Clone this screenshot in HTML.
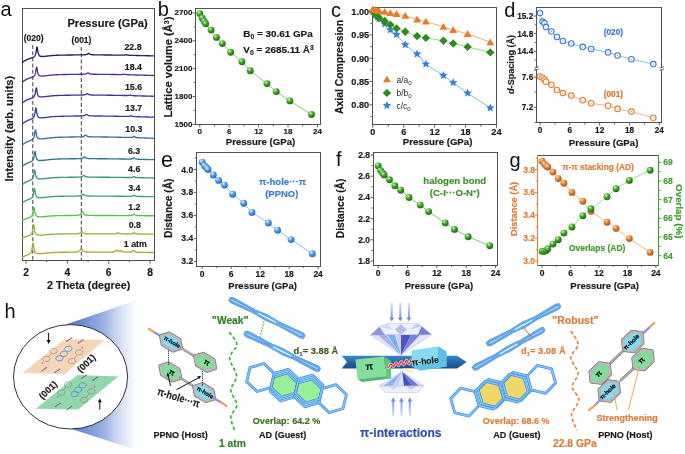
<!DOCTYPE html>
<html><head><meta charset="utf-8"><style>
html,body{margin:0;padding:0;background:#fff;width:685px;height:454px;overflow:hidden}
svg{display:block;font-family:"Liberation Sans",sans-serif;will-change:transform}
</style></head><body>
<svg width="685" height="454" viewBox="0 0 685 454" font-family="Liberation Sans, sans-serif">
<defs>
 <radialGradient id="sg" cx="0.36" cy="0.3" r="0.72">
  <stop offset="0" stop-color="#eaffe6"/><stop offset="0.18" stop-color="#8ed670"/><stop offset="0.5" stop-color="#3c9e24"/><stop offset="1" stop-color="#1c6a0c"/>
 </radialGradient>
 <radialGradient id="sb" cx="0.36" cy="0.3" r="0.72">
  <stop offset="0" stop-color="#ffffff"/><stop offset="0.18" stop-color="#a6d2fa"/><stop offset="0.5" stop-color="#4b94e4"/><stop offset="1" stop-color="#2466b8"/>
 </radialGradient>
 <radialGradient id="so" cx="0.36" cy="0.3" r="0.72">
  <stop offset="0" stop-color="#fff4e8"/><stop offset="0.18" stop-color="#f4b07a"/><stop offset="0.5" stop-color="#de7f34"/><stop offset="1" stop-color="#a85414"/>
 </radialGradient>
 <linearGradient id="wedge" x1="0" y1="0" x2="1" y2="0">
  <stop offset="0" stop-color="#4a6cc8"/><stop offset="0.55" stop-color="#9fb4e6"/><stop offset="1" stop-color="#ffffff" stop-opacity="0.6"/>
 </linearGradient>
 <linearGradient id="ribbon" x1="0" y1="0" x2="0" y2="1">
  <stop offset="0" stop-color="#3a86c8"/><stop offset="0.5" stop-color="#2466a8"/><stop offset="1" stop-color="#1a4e8a"/>
 </linearGradient>
 <linearGradient id="arr" x1="0" y1="0" x2="0" y2="1">
  <stop offset="0" stop-color="#d8e2f8"/><stop offset="1" stop-color="#7f9ad8"/>
 </linearGradient>
 <linearGradient id="arr2" x1="0" y1="1" x2="0" y2="0">
  <stop offset="0" stop-color="#d8e2f8"/><stop offset="1" stop-color="#7f9ad8"/>
 </linearGradient>
 <linearGradient id="dia" x1="0" y1="0" x2="1" y2="1">
  <stop offset="0" stop-color="#ffffff"/><stop offset="0.5" stop-color="#c8d4f4"/><stop offset="1" stop-color="#6a80d0"/>
 </linearGradient>
</defs><text x="0.50" y="16.00" font-size="20" font-weight="normal" text-anchor="start" fill="#111">a</text>
<line x1="22.50" y1="8.50" x2="154.50" y2="8.50" stroke="#505050" stroke-width="1.0" stroke-linecap="square"/>
<line x1="22.50" y1="260.50" x2="154.50" y2="260.50" stroke="#505050" stroke-width="1.0" stroke-linecap="square"/>
<line x1="22.50" y1="8.50" x2="22.50" y2="260.50" stroke="#505050" stroke-width="1.0" stroke-linecap="square"/>
<line x1="154.50" y1="8.50" x2="154.50" y2="260.50" stroke="#505050" stroke-width="1.0" stroke-linecap="square"/>
<line x1="26.00" y1="260.20" x2="26.00" y2="263.80" stroke="#505050" stroke-width="0.9" />
<line x1="67.36" y1="260.20" x2="67.36" y2="263.80" stroke="#505050" stroke-width="0.9" />
<line x1="108.72" y1="260.20" x2="108.72" y2="263.80" stroke="#505050" stroke-width="0.9" />
<line x1="150.08" y1="260.20" x2="150.08" y2="263.80" stroke="#505050" stroke-width="0.9" />
<line x1="46.68" y1="260.20" x2="46.68" y2="262.20" stroke="#505050" stroke-width="0.9" />
<line x1="88.04" y1="260.20" x2="88.04" y2="262.20" stroke="#505050" stroke-width="0.9" />
<line x1="129.40" y1="260.20" x2="129.40" y2="262.20" stroke="#505050" stroke-width="0.9" />
<text x="26.00" y="276.00" font-size="10.3" font-weight="bold" text-anchor="middle" fill="#1a1a1a" stroke="#1a1a1a" stroke-width="0.18" stroke-linejoin="round">2</text>
<text x="67.36" y="276.00" font-size="10.3" font-weight="bold" text-anchor="middle" fill="#1a1a1a" stroke="#1a1a1a" stroke-width="0.18" stroke-linejoin="round">4</text>
<text x="108.72" y="276.00" font-size="10.3" font-weight="bold" text-anchor="middle" fill="#1a1a1a" stroke="#1a1a1a" stroke-width="0.18" stroke-linejoin="round">6</text>
<text x="150.08" y="276.00" font-size="10.3" font-weight="bold" text-anchor="middle" fill="#1a1a1a" stroke="#1a1a1a" stroke-width="0.18" stroke-linejoin="round">8</text>
<text x="47.10" y="289.10" font-size="10.8" font-weight="bold" text-anchor="start" fill="#1a1a1a" textLength="83.2" lengthAdjust="spacingAndGlyphs" stroke="#1a1a1a" stroke-width="0.18" stroke-linejoin="round">2 Theta (degree)</text>
<text x="67.40" y="26.90" font-size="10.6" font-weight="bold" text-anchor="start" fill="#1a1a1a" textLength="80.3" lengthAdjust="spacingAndGlyphs" stroke="#1a1a1a" stroke-width="0.18" stroke-linejoin="round">Pressure (GPa)</text>
<text x="33.60" y="41.40" font-size="8.5" font-weight="bold" text-anchor="middle" fill="#1a1a1a" textLength="19.8" lengthAdjust="spacingAndGlyphs" stroke="#1a1a1a" stroke-width="0.18" stroke-linejoin="round">(020)</text>
<text x="81.50" y="43.40" font-size="8.5" font-weight="bold" text-anchor="middle" fill="#1a1a1a" textLength="19.8" lengthAdjust="spacingAndGlyphs" stroke="#1a1a1a" stroke-width="0.18" stroke-linejoin="round">(001)</text>
<text x="13.40" y="128.70" font-size="11.06" font-weight="bold" text-anchor="middle" fill="#1a1a1a" textLength="105.7" lengthAdjust="spacingAndGlyphs" transform="rotate(-90 13.40 128.70)" stroke="#1a1a1a" stroke-width="0.18" stroke-linejoin="round">Intensity (arb. units)</text>
<line x1="32.80" y1="45.00" x2="32.80" y2="260.00" stroke="#333" stroke-width="0.95" stroke-dasharray="4 2.2"/>
<line x1="81.30" y1="47.00" x2="81.30" y2="260.00" stroke="#333" stroke-width="0.95" stroke-dasharray="4 2.2"/>
<path d="M22.00,62.89 L22.50,62.46 L23.00,62.05 L23.50,61.67 L24.00,61.31 L24.50,60.98 L25.00,60.66 L25.50,60.37 L26.00,60.09 L26.50,59.83 L27.00,59.59 L27.50,59.36 L28.00,59.15 L28.50,58.95 L29.00,58.76 L29.50,58.58 L30.00,58.41 L30.50,58.24 L31.00,58.08 L31.50,57.91 L32.00,57.74 L32.50,57.55 L33.00,57.34 L33.50,57.09 L33.75,56.94 L34.00,56.76 L34.25,56.55 L34.50,56.29 L34.75,55.97 L35.00,55.57 L35.25,55.06 L35.50,54.38 L35.75,53.49 L36.00,52.31 L36.25,50.81 L36.50,49.10 L36.75,47.59 L37.00,46.95 L37.25,47.54 L37.50,48.99 L37.75,50.65 L38.00,52.09 L38.25,53.22 L38.50,54.06 L38.75,54.67 L39.00,55.13 L39.25,55.47 L39.50,55.73 L39.75,55.92 L40.00,56.07 L40.25,56.18 L40.50,56.27 L40.75,56.34 L41.00,56.39 L41.50,56.45 L42.00,56.48 L42.50,56.48 L43.00,56.47 L43.50,56.44 L44.00,56.40 L44.50,56.36 L45.00,56.31 L45.50,56.26 L46.00,56.21 L46.50,56.15 L47.00,56.09 L47.50,56.04 L48.00,55.98 L48.50,55.92 L49.00,55.87 L49.50,55.81 L50.00,55.76 L50.50,55.71 L51.00,55.66 L51.50,55.62 L52.00,55.57 L52.50,55.53 L53.00,55.50 L53.50,55.46 L54.00,55.43 L54.50,55.40 L55.00,55.37 L55.50,55.34 L56.00,55.31 L56.50,55.29 L57.00,55.27 L57.50,55.25 L58.00,55.23 L58.50,55.21 L59.00,55.20 L59.50,55.18 L60.00,55.17 L60.50,55.16 L61.00,55.14 L61.50,55.13 L62.00,55.12 L62.50,55.11 L63.00,55.10 L63.50,55.09 L64.00,55.08 L64.50,55.07 L65.00,55.06 L65.50,55.05 L66.00,55.05 L66.50,55.04 L67.00,55.03 L67.50,55.02 L68.00,55.02 L68.50,55.01 L69.00,55.00 L69.50,55.00 L70.00,54.99 L70.50,54.98 L71.00,54.98 L71.50,54.97 L72.00,54.97 L72.50,54.96 L73.00,54.96 L73.50,54.95 L74.00,54.95 L74.50,54.94 L75.00,54.94 L75.50,54.93 L76.00,54.93 L76.50,54.92 L77.00,54.92 L77.50,54.91 L78.00,54.91 L78.50,54.90 L79.00,54.90 L79.50,54.89 L80.00,54.88 L80.50,54.88 L81.00,54.87 L81.50,54.86 L82.00,54.85 L82.50,54.84 L83.00,54.83 L83.50,54.82 L84.00,54.80 L84.50,54.77 L85.00,54.74 L85.25,54.71 L85.50,54.69 L85.75,54.66 L86.00,54.62 L86.25,54.57 L86.50,54.51 L86.75,54.44 L87.00,54.34 L87.25,54.23 L87.50,54.09 L87.75,53.92 L88.00,53.73 L88.25,53.56 L88.50,53.43 L88.75,53.40 L89.00,53.47 L89.25,53.63 L89.50,53.81 L89.75,53.99 L90.00,54.15 L90.25,54.28 L90.50,54.38 L90.75,54.47 L91.00,54.54 L91.25,54.59 L91.50,54.63 L91.75,54.67 L92.00,54.70 L92.25,54.72 L92.50,54.75 L92.75,54.76 L93.25,54.79 L93.75,54.81 L94.25,54.83 L94.75,54.84 L95.25,54.85 L95.75,54.86 L96.25,54.87 L96.75,54.88 L97.25,54.89 L97.75,54.89 L98.25,54.90 L98.75,54.90 L99.25,54.91 L99.75,54.91 L100.25,54.92 L100.75,54.92 L101.25,54.93 L101.75,54.93 L102.25,54.94 L102.75,54.94 L103.25,54.95 L103.75,54.95 L104.25,54.96 L104.75,54.96 L105.25,54.97 L105.75,54.97 L106.25,54.98 L106.75,54.99 L107.25,54.99 L107.75,55.00 L108.25,55.00 L108.75,55.01 L109.25,55.01 L109.75,55.02 L110.25,55.03 L110.75,55.03 L111.25,55.04 L111.75,55.04 L112.25,55.05 L112.75,55.06 L113.25,55.06 L113.75,55.07 L114.25,55.08 L114.75,55.08 L115.25,55.09 L115.75,55.10 L116.25,55.10 L116.75,55.11 L117.25,55.12 L117.75,55.12 L118.25,55.13 L118.75,55.13 L119.25,55.14 L119.75,55.15 L120.25,55.15 L120.75,55.15 L121.25,55.16 L121.75,55.16 L122.25,55.15 L122.75,55.15 L123.25,55.13 L123.75,55.10 L124.25,55.05 L124.75,54.97 L125.25,54.83 L125.75,54.70 L126.25,54.71 L126.75,54.86 L127.25,55.01 L127.75,55.12 L128.25,55.19 L128.75,55.23 L129.25,55.27 L129.75,55.29 L130.25,55.32 L130.75,55.33 L131.25,55.35 L131.75,55.37 L132.25,55.38 L132.75,55.39 L133.25,55.41 L133.75,55.42 L134.25,55.43 L134.75,55.44 L135.25,55.45 L135.75,55.47 L136.25,55.48 L136.75,55.49 L137.25,55.50 L137.75,55.51 L138.25,55.52 L138.75,55.54 L139.25,55.55 L139.75,55.56 L140.25,55.57 L140.75,55.58 L141.25,55.59 L141.75,55.61 L142.25,55.62 L142.75,55.63 L143.25,55.64 L143.75,55.65 L144.25,55.66 L144.75,55.68 L145.25,55.69 L145.75,55.70 L146.25,55.71 L146.75,55.72 L147.25,55.73 L147.75,55.75 L148.25,55.76 L148.75,55.77 L149.25,55.78 L149.75,55.79 L150.25,55.81 L150.75,55.82 L151.25,55.83 L151.75,55.84 L152.25,55.85 L152.75,55.87 L153.25,55.88 L153.75,55.89" fill="none" stroke="#35195e" stroke-width="1.35" stroke-linejoin="round"/>
<text x="133.00" y="49.90" font-size="8.8" font-weight="bold" text-anchor="middle" fill="#1a1a1a" stroke="#1a1a1a" stroke-width="0.18" stroke-linejoin="round">22.8</text>
<path d="M22.00,82.49 L22.50,82.05 L23.00,81.64 L23.50,81.26 L24.00,80.90 L24.50,80.56 L25.00,80.25 L25.50,79.95 L26.00,79.67 L26.50,79.41 L27.00,79.16 L27.50,78.93 L28.00,78.71 L28.50,78.51 L29.00,78.32 L29.50,78.13 L30.00,77.95 L30.50,77.78 L31.00,77.61 L31.50,77.43 L32.00,77.25 L32.50,77.04 L33.00,76.79 L33.25,76.65 L33.50,76.48 L33.75,76.29 L34.00,76.06 L34.25,75.78 L34.50,75.43 L34.75,74.98 L35.00,74.40 L35.25,73.64 L35.50,72.63 L35.75,71.31 L36.00,69.74 L36.25,68.15 L36.50,67.13 L36.75,67.22 L37.00,68.36 L37.25,69.92 L37.50,71.40 L37.75,72.59 L38.00,73.49 L38.25,74.15 L38.50,74.64 L38.75,75.00 L39.00,75.27 L39.25,75.48 L39.50,75.63 L39.75,75.75 L40.00,75.84 L40.25,75.91 L40.50,75.96 L40.75,76.00 L41.25,76.04 L41.75,76.06 L42.25,76.05 L42.75,76.03 L43.25,76.00 L43.75,75.96 L44.25,75.91 L44.75,75.86 L45.25,75.80 L45.75,75.74 L46.25,75.68 L46.75,75.62 L47.25,75.56 L47.75,75.50 L48.25,75.44 L48.75,75.38 L49.25,75.33 L49.75,75.27 L50.25,75.22 L50.75,75.17 L51.25,75.12 L51.75,75.07 L52.25,75.03 L52.75,74.99 L53.25,74.95 L53.75,74.91 L54.25,74.88 L54.75,74.84 L55.25,74.81 L55.75,74.79 L56.25,74.76 L56.75,74.74 L57.25,74.71 L57.75,74.69 L58.25,74.67 L58.75,74.65 L59.25,74.64 L59.75,74.62 L60.25,74.61 L60.75,74.59 L61.25,74.58 L61.75,74.56 L62.25,74.55 L62.75,74.54 L63.25,74.53 L63.75,74.52 L64.25,74.51 L64.75,74.50 L65.25,74.49 L65.75,74.48 L66.25,74.47 L66.75,74.46 L67.25,74.45 L67.75,74.44 L68.25,74.44 L68.75,74.43 L69.25,74.42 L69.75,74.41 L70.25,74.41 L70.75,74.40 L71.25,74.39 L71.75,74.39 L72.25,74.38 L72.75,74.37 L73.25,74.37 L73.75,74.36 L74.25,74.35 L74.75,74.35 L75.25,74.34 L75.75,74.34 L76.25,74.33 L76.75,74.32 L77.25,74.32 L77.75,74.31 L78.25,74.31 L78.75,74.30 L79.25,74.29 L79.75,74.29 L80.25,74.28 L80.75,74.27 L81.25,74.26 L81.75,74.25 L82.25,74.24 L82.75,74.22 L83.25,74.20 L83.75,74.18 L84.25,74.14 L84.50,74.12 L84.75,74.09 L85.00,74.06 L85.25,74.03 L85.50,73.98 L85.75,73.92 L86.00,73.85 L86.25,73.77 L86.50,73.65 L86.75,73.52 L87.00,73.36 L87.25,73.17 L87.50,72.99 L87.75,72.85 L88.00,72.80 L88.25,72.85 L88.50,72.99 L88.75,73.17 L89.00,73.36 L89.25,73.52 L89.50,73.65 L89.75,73.76 L90.00,73.85 L90.25,73.92 L90.50,73.98 L90.75,74.03 L91.00,74.06 L91.25,74.09 L91.50,74.12 L91.75,74.14 L92.00,74.16 L92.50,74.19 L93.00,74.21 L93.50,74.23 L94.00,74.24 L94.50,74.25 L95.00,74.26 L95.50,74.27 L96.00,74.28 L96.50,74.29 L97.00,74.29 L97.50,74.30 L98.00,74.31 L98.50,74.31 L99.00,74.32 L99.50,74.32 L100.00,74.33 L100.50,74.33 L101.00,74.34 L101.50,74.34 L102.00,74.35 L102.50,74.35 L103.00,74.36 L103.50,74.37 L104.00,74.37 L104.50,74.38 L105.00,74.38 L105.50,74.39 L106.00,74.40 L106.50,74.40 L107.00,74.41 L107.50,74.41 L108.00,74.42 L108.50,74.43 L109.00,74.43 L109.50,74.44 L110.00,74.45 L110.50,74.46 L111.00,74.46 L111.50,74.47 L112.00,74.48 L112.50,74.48 L113.00,74.49 L113.50,74.50 L114.00,74.51 L114.50,74.52 L115.00,74.52 L115.50,74.53 L116.00,74.54 L116.50,74.54 L117.00,74.55 L117.50,74.56 L118.00,74.56 L118.50,74.57 L119.00,74.57 L119.50,74.58 L120.00,74.58 L120.50,74.57 L121.00,74.56 L121.50,74.54 L122.00,74.51 L122.50,74.44 L123.00,74.33 L123.50,74.19 L124.00,74.11 L124.50,74.21 L125.00,74.38 L125.50,74.51 L126.00,74.59 L126.50,74.65 L127.00,74.69 L127.50,74.72 L128.00,74.75 L128.50,74.77 L129.00,74.79 L129.50,74.81 L130.00,74.82 L130.50,74.84 L131.00,74.85 L131.50,74.87 L132.00,74.88 L132.50,74.90 L133.00,74.91 L133.50,74.92 L134.00,74.94 L134.50,74.95 L135.00,74.96 L135.50,74.98 L136.00,74.99 L136.50,75.00 L137.00,75.02 L137.50,75.03 L138.00,75.05 L138.50,75.06 L139.00,75.07 L139.50,75.09 L140.00,75.10 L140.50,75.11 L141.00,75.13 L141.50,75.14 L142.00,75.16 L142.50,75.17 L143.00,75.18 L143.50,75.20 L144.00,75.21 L144.50,75.22 L145.00,75.24 L145.50,75.25 L146.00,75.27 L146.50,75.28 L147.00,75.30 L147.50,75.31 L148.00,75.32 L148.50,75.34 L149.00,75.35 L149.50,75.37 L150.00,75.38 L150.50,75.39 L151.00,75.41 L151.50,75.42 L152.00,75.44 L152.50,75.45 L153.00,75.47 L153.50,75.48 L154.00,75.49" fill="none" stroke="#5b2c8f" stroke-width="1.35" stroke-linejoin="round"/>
<text x="133.35" y="69.50" font-size="8.8" font-weight="bold" text-anchor="middle" fill="#1a1a1a" stroke="#1a1a1a" stroke-width="0.18" stroke-linejoin="round">18.4</text>
<path d="M22.00,103.29 L22.50,102.85 L23.00,102.44 L23.50,102.06 L24.00,101.70 L24.50,101.36 L25.00,101.04 L25.50,100.74 L26.00,100.46 L26.50,100.20 L27.00,99.96 L27.50,99.72 L28.00,99.51 L28.50,99.30 L29.00,99.10 L29.50,98.91 L30.00,98.73 L30.50,98.55 L31.00,98.37 L31.50,98.19 L32.00,97.98 L32.50,97.75 L32.75,97.62 L33.00,97.47 L33.25,97.30 L33.50,97.10 L33.75,96.86 L34.00,96.56 L34.25,96.19 L34.50,95.72 L34.75,95.11 L35.00,94.30 L35.25,93.23 L35.50,91.85 L35.75,90.24 L36.00,88.72 L36.25,87.89 L36.50,88.22 L36.75,89.49 L37.00,91.06 L37.25,92.49 L37.50,93.62 L37.75,94.47 L38.00,95.09 L38.25,95.56 L38.50,95.90 L38.75,96.15 L39.00,96.35 L39.25,96.49 L39.50,96.61 L39.75,96.69 L40.00,96.76 L40.25,96.81 L40.50,96.84 L41.00,96.88 L41.50,96.90 L42.00,96.89 L42.50,96.87 L43.00,96.84 L43.50,96.79 L44.00,96.75 L44.50,96.70 L45.00,96.64 L45.50,96.58 L46.00,96.52 L46.50,96.46 L47.00,96.40 L47.50,96.34 L48.00,96.28 L48.50,96.22 L49.00,96.16 L49.50,96.10 L50.00,96.05 L50.50,95.99 L51.00,95.94 L51.50,95.90 L52.00,95.85 L52.50,95.81 L53.00,95.77 L53.50,95.73 L54.00,95.69 L54.50,95.66 L55.00,95.63 L55.50,95.60 L56.00,95.57 L56.50,95.55 L57.00,95.52 L57.50,95.50 L58.00,95.48 L58.50,95.46 L59.00,95.45 L59.50,95.43 L60.00,95.41 L60.50,95.40 L61.00,95.38 L61.50,95.37 L62.00,95.36 L62.50,95.35 L63.00,95.33 L63.50,95.32 L64.00,95.31 L64.50,95.30 L65.00,95.29 L65.50,95.28 L66.00,95.27 L66.50,95.26 L67.00,95.26 L67.50,95.25 L68.00,95.24 L68.50,95.23 L69.00,95.22 L69.50,95.22 L70.00,95.21 L70.50,95.20 L71.00,95.19 L71.50,95.19 L72.00,95.18 L72.50,95.17 L73.00,95.17 L73.50,95.16 L74.00,95.16 L74.50,95.15 L75.00,95.14 L75.50,95.14 L76.00,95.13 L76.50,95.12 L77.00,95.12 L77.50,95.11 L78.00,95.11 L78.50,95.10 L79.00,95.09 L79.50,95.08 L80.00,95.07 L80.50,95.06 L81.00,95.05 L81.50,95.04 L82.00,95.02 L82.50,95.00 L83.00,94.98 L83.50,94.94 L83.75,94.92 L84.00,94.89 L84.25,94.86 L84.50,94.82 L84.75,94.77 L85.00,94.71 L85.25,94.64 L85.50,94.55 L85.75,94.43 L86.00,94.29 L86.25,94.12 L86.50,93.94 L86.75,93.76 L87.00,93.63 L87.25,93.60 L87.50,93.67 L87.75,93.83 L88.00,94.01 L88.25,94.19 L88.50,94.35 L88.75,94.48 L89.00,94.58 L89.25,94.67 L89.50,94.73 L89.75,94.79 L90.00,94.83 L90.25,94.87 L90.50,94.90 L90.75,94.92 L91.00,94.94 L91.25,94.96 L91.75,94.99 L92.25,95.01 L92.75,95.03 L93.25,95.04 L93.75,95.05 L94.25,95.06 L94.75,95.07 L95.25,95.08 L95.75,95.08 L96.25,95.09 L96.75,95.10 L97.25,95.10 L97.75,95.11 L98.25,95.11 L98.75,95.12 L99.25,95.12 L99.75,95.13 L100.25,95.13 L100.75,95.14 L101.25,95.14 L101.75,95.15 L102.25,95.15 L102.75,95.16 L103.25,95.16 L103.75,95.17 L104.25,95.18 L104.75,95.18 L105.25,95.19 L105.75,95.19 L106.25,95.20 L106.75,95.21 L107.25,95.21 L107.75,95.22 L108.25,95.23 L108.75,95.23 L109.25,95.24 L109.75,95.25 L110.25,95.25 L110.75,95.26 L111.25,95.27 L111.75,95.28 L112.25,95.28 L112.75,95.29 L113.25,95.30 L113.75,95.31 L114.25,95.32 L114.75,95.33 L115.25,95.33 L115.75,95.34 L116.25,95.35 L116.75,95.36 L117.25,95.37 L117.75,95.38 L118.25,95.39 L118.75,95.40 L119.25,95.40 L119.75,95.41 L120.25,95.42 L120.75,95.43 L121.25,95.44 L121.75,95.45 L122.25,95.46 L122.75,95.47 L123.25,95.47 L123.75,95.48 L124.25,95.49 L124.75,95.50 L125.25,95.50 L125.75,95.50 L126.25,95.50 L126.75,95.50 L127.25,95.49 L127.75,95.46 L128.25,95.41 L128.75,95.33 L129.25,95.20 L129.75,95.07 L130.25,95.08 L130.75,95.23 L131.25,95.39 L131.75,95.50 L132.25,95.57 L132.75,95.62 L133.25,95.65 L133.75,95.68 L134.25,95.71 L134.75,95.73 L135.25,95.75 L135.75,95.77 L136.25,95.78 L136.75,95.80 L137.25,95.81 L137.75,95.83 L138.25,95.84 L138.75,95.86 L139.25,95.87 L139.75,95.89 L140.25,95.90 L140.75,95.92 L141.25,95.93 L141.75,95.94 L142.25,95.96 L142.75,95.97 L143.25,95.99 L143.75,96.00 L144.25,96.02 L144.75,96.03 L145.25,96.04 L145.75,96.06 L146.25,96.07 L146.75,96.09 L147.25,96.10 L147.75,96.12 L148.25,96.13 L148.75,96.14 L149.25,96.16 L149.75,96.17 L150.25,96.19 L150.75,96.20 L151.25,96.22 L151.75,96.23 L152.25,96.24 L152.75,96.26 L153.25,96.27 L153.75,96.29" fill="none" stroke="#4a2d92" stroke-width="1.35" stroke-linejoin="round"/>
<text x="133.50" y="90.30" font-size="8.8" font-weight="bold" text-anchor="middle" fill="#1a1a1a" stroke="#1a1a1a" stroke-width="0.18" stroke-linejoin="round">15.6</text>
<path d="M22.00,124.18 L22.50,123.74 L23.00,123.33 L23.50,122.95 L24.00,122.59 L24.50,122.25 L25.00,121.93 L25.50,121.63 L26.00,121.35 L26.50,121.08 L27.00,120.83 L27.50,120.60 L28.00,120.37 L28.50,120.16 L29.00,119.96 L29.50,119.76 L30.00,119.57 L30.50,119.38 L31.00,119.18 L31.50,118.96 L32.00,118.72 L32.25,118.58 L32.50,118.42 L32.75,118.25 L33.00,118.04 L33.25,117.80 L33.50,117.50 L33.75,117.13 L34.00,116.66 L34.25,116.06 L34.50,115.26 L34.75,114.21 L35.00,112.84 L35.25,111.15 L35.50,109.37 L35.75,108.06 L36.00,107.90 L36.25,108.96 L36.50,110.64 L36.75,112.32 L37.00,113.70 L37.25,114.75 L37.50,115.53 L37.75,116.11 L38.00,116.53 L38.25,116.85 L38.50,117.09 L38.75,117.28 L39.00,117.42 L39.25,117.53 L39.50,117.61 L39.75,117.67 L40.00,117.72 L40.50,117.78 L41.00,117.81 L41.50,117.81 L42.00,117.80 L42.50,117.77 L43.00,117.74 L43.50,117.70 L44.00,117.65 L44.50,117.59 L45.00,117.54 L45.50,117.48 L46.00,117.42 L46.50,117.36 L47.00,117.30 L47.50,117.23 L48.00,117.17 L48.50,117.11 L49.00,117.06 L49.50,117.00 L50.00,116.94 L50.50,116.89 L51.00,116.84 L51.50,116.79 L52.00,116.75 L52.50,116.70 L53.00,116.66 L53.50,116.63 L54.00,116.59 L54.50,116.56 L55.00,116.53 L55.50,116.50 L56.00,116.47 L56.50,116.45 L57.00,116.42 L57.50,116.40 L58.00,116.38 L58.50,116.36 L59.00,116.34 L59.50,116.33 L60.00,116.31 L60.50,116.30 L61.00,116.28 L61.50,116.27 L62.00,116.26 L62.50,116.24 L63.00,116.23 L63.50,116.22 L64.00,116.21 L64.50,116.20 L65.00,116.19 L65.50,116.18 L66.00,116.17 L66.50,116.16 L67.00,116.15 L67.50,116.15 L68.00,116.14 L68.50,116.13 L69.00,116.12 L69.50,116.11 L70.00,116.11 L70.50,116.10 L71.00,116.09 L71.50,116.08 L72.00,116.08 L72.50,116.07 L73.00,116.06 L73.50,116.06 L74.00,116.05 L74.50,116.04 L75.00,116.04 L75.50,116.03 L76.00,116.02 L76.50,116.02 L77.00,116.01 L77.50,116.00 L78.00,116.00 L78.50,115.99 L79.00,115.98 L79.50,115.97 L80.00,115.96 L80.50,115.94 L81.00,115.93 L81.50,115.91 L82.00,115.88 L82.50,115.85 L83.00,115.80 L83.25,115.77 L83.50,115.74 L83.75,115.69 L84.00,115.64 L84.25,115.58 L84.50,115.50 L84.75,115.40 L85.00,115.27 L85.25,115.12 L85.50,114.93 L85.75,114.72 L86.00,114.52 L86.25,114.36 L86.50,114.30 L86.75,114.36 L87.00,114.52 L87.25,114.72 L87.50,114.93 L87.75,115.11 L88.00,115.27 L88.25,115.39 L88.50,115.49 L88.75,115.57 L89.00,115.64 L89.25,115.69 L89.50,115.73 L89.75,115.76 L90.00,115.79 L90.25,115.82 L90.50,115.84 L91.00,115.87 L91.50,115.89 L92.00,115.91 L92.50,115.93 L93.00,115.94 L93.50,115.95 L94.00,115.96 L94.50,115.97 L95.00,115.97 L95.50,115.98 L96.00,115.99 L96.50,115.99 L97.00,116.00 L97.50,116.00 L98.00,116.01 L98.50,116.01 L99.00,116.02 L99.50,116.02 L100.00,116.03 L100.50,116.03 L101.00,116.04 L101.50,116.04 L102.00,116.05 L102.50,116.06 L103.00,116.06 L103.50,116.07 L104.00,116.07 L104.50,116.08 L105.00,116.08 L105.50,116.09 L106.00,116.10 L106.50,116.10 L107.00,116.11 L107.50,116.12 L108.00,116.12 L108.50,116.13 L109.00,116.14 L109.50,116.14 L110.00,116.15 L110.50,116.16 L111.00,116.16 L111.50,116.17 L112.00,116.18 L112.50,116.19 L113.00,116.20 L113.50,116.20 L114.00,116.21 L114.50,116.22 L115.00,116.23 L115.50,116.24 L116.00,116.25 L116.50,116.25 L117.00,116.26 L117.50,116.27 L118.00,116.28 L118.50,116.29 L119.00,116.30 L119.50,116.31 L120.00,116.32 L120.50,116.33 L121.00,116.33 L121.50,116.34 L122.00,116.35 L122.50,116.36 L123.00,116.37 L123.50,116.38 L124.00,116.39 L124.50,116.39 L125.00,116.40 L125.50,116.41 L126.00,116.41 L126.50,116.41 L127.00,116.41 L127.50,116.40 L128.00,116.39 L128.50,116.36 L129.00,116.31 L129.50,116.22 L130.00,116.07 L130.50,115.88 L131.00,115.77 L131.50,115.90 L132.00,116.12 L132.50,116.30 L133.00,116.41 L133.50,116.48 L134.00,116.54 L134.50,116.57 L135.00,116.61 L135.50,116.63 L136.00,116.65 L136.50,116.67 L137.00,116.69 L137.50,116.71 L138.00,116.73 L138.50,116.74 L139.00,116.76 L139.50,116.77 L140.00,116.79 L140.50,116.80 L141.00,116.82 L141.50,116.83 L142.00,116.85 L142.50,116.86 L143.00,116.88 L143.50,116.89 L144.00,116.91 L144.50,116.92 L145.00,116.93 L145.50,116.95 L146.00,116.96 L146.50,116.98 L147.00,116.99 L147.50,117.01 L148.00,117.02 L148.50,117.04 L149.00,117.05 L149.50,117.06 L150.00,117.08 L150.50,117.09 L151.00,117.11 L151.50,117.12 L152.00,117.14 L152.50,117.15 L153.00,117.16 L153.50,117.18 L154.00,117.19" fill="none" stroke="#37419a" stroke-width="1.35" stroke-linejoin="round"/>
<text x="133.70" y="111.20" font-size="8.8" font-weight="bold" text-anchor="middle" fill="#1a1a1a" stroke="#1a1a1a" stroke-width="0.18" stroke-linejoin="round">13.7</text>
<path d="M22.00,145.28 L22.50,144.84 L23.00,144.43 L23.50,144.04 L24.00,143.68 L24.50,143.34 L25.00,143.01 L25.50,142.71 L26.00,142.43 L26.50,142.16 L27.00,141.91 L27.50,141.67 L28.00,141.44 L28.50,141.22 L29.00,141.01 L29.50,140.81 L30.00,140.61 L30.50,140.40 L31.00,140.18 L31.50,139.94 L31.75,139.80 L32.00,139.65 L32.25,139.48 L32.50,139.29 L32.75,139.06 L33.00,138.78 L33.25,138.44 L33.50,138.00 L33.75,137.45 L34.00,136.72 L34.25,135.75 L34.50,134.50 L34.75,132.96 L35.00,131.33 L35.25,130.14 L35.50,129.99 L35.75,130.95 L36.00,132.47 L36.25,133.99 L36.50,135.24 L36.75,136.19 L37.00,136.90 L37.25,137.42 L37.50,137.80 L37.75,138.09 L38.00,138.30 L38.25,138.47 L38.50,138.59 L38.75,138.69 L39.00,138.76 L39.25,138.81 L39.50,138.85 L40.00,138.90 L40.50,138.92 L41.00,138.92 L41.50,138.90 L42.00,138.87 L42.50,138.83 L43.00,138.79 L43.50,138.74 L44.00,138.68 L44.50,138.62 L45.00,138.56 L45.50,138.49 L46.00,138.43 L46.50,138.36 L47.00,138.30 L47.50,138.23 L48.00,138.17 L48.50,138.11 L49.00,138.05 L49.50,137.99 L50.00,137.93 L50.50,137.87 L51.00,137.82 L51.50,137.77 L52.00,137.72 L52.50,137.68 L53.00,137.63 L53.50,137.59 L54.00,137.56 L54.50,137.52 L55.00,137.49 L55.50,137.46 L56.00,137.43 L56.50,137.40 L57.00,137.38 L57.50,137.35 L58.00,137.33 L58.50,137.31 L59.00,137.29 L59.50,137.27 L60.00,137.26 L60.50,137.24 L61.00,137.22 L61.50,137.21 L62.00,137.19 L62.50,137.18 L63.00,137.17 L63.50,137.16 L64.00,137.14 L64.50,137.13 L65.00,137.12 L65.50,137.11 L66.00,137.10 L66.50,137.09 L67.00,137.08 L67.50,137.07 L68.00,137.06 L68.50,137.05 L69.00,137.04 L69.50,137.03 L70.00,137.02 L70.50,137.01 L71.00,137.01 L71.50,137.00 L72.00,136.99 L72.50,136.98 L73.00,136.97 L73.50,136.97 L74.00,136.96 L74.50,136.95 L75.00,136.94 L75.50,136.93 L76.00,136.93 L76.50,136.92 L77.00,136.91 L77.50,136.90 L78.00,136.89 L78.50,136.88 L79.00,136.86 L79.50,136.85 L80.00,136.83 L80.50,136.81 L81.00,136.79 L81.50,136.75 L82.00,136.71 L82.25,136.68 L82.50,136.64 L82.75,136.60 L83.00,136.55 L83.25,136.49 L83.50,136.41 L83.75,136.31 L84.00,136.19 L84.25,136.04 L84.50,135.85 L84.75,135.64 L85.00,135.42 L85.25,135.22 L85.50,135.11 L85.75,135.12 L86.00,135.26 L86.25,135.46 L86.50,135.68 L86.75,135.89 L87.00,136.06 L87.25,136.21 L87.50,136.32 L87.75,136.42 L88.00,136.49 L88.25,136.55 L88.50,136.60 L88.75,136.64 L89.00,136.67 L89.25,136.70 L89.50,136.72 L89.75,136.74 L90.25,136.77 L90.75,136.79 L91.25,136.81 L91.75,136.83 L92.25,136.84 L92.75,136.85 L93.25,136.86 L93.75,136.87 L94.25,136.87 L94.75,136.88 L95.25,136.89 L95.75,136.89 L96.25,136.90 L96.75,136.90 L97.25,136.91 L97.75,136.91 L98.25,136.92 L98.75,136.92 L99.25,136.93 L99.75,136.94 L100.25,136.94 L100.75,136.95 L101.25,136.95 L101.75,136.96 L102.25,136.96 L102.75,136.97 L103.25,136.98 L103.75,136.98 L104.25,136.99 L104.75,137.00 L105.25,137.00 L105.75,137.01 L106.25,137.02 L106.75,137.03 L107.25,137.03 L107.75,137.04 L108.25,137.05 L108.75,137.06 L109.25,137.06 L109.75,137.07 L110.25,137.08 L110.75,137.09 L111.25,137.10 L111.75,137.11 L112.25,137.12 L112.75,137.13 L113.25,137.13 L113.75,137.14 L114.25,137.15 L114.75,137.16 L115.25,137.17 L115.75,137.18 L116.25,137.19 L116.75,137.20 L117.25,137.21 L117.75,137.22 L118.25,137.23 L118.75,137.25 L119.25,137.26 L119.75,137.27 L120.25,137.28 L120.75,137.29 L121.25,137.30 L121.75,137.31 L122.25,137.32 L122.75,137.33 L123.25,137.34 L123.75,137.36 L124.25,137.37 L124.75,137.38 L125.25,137.39 L125.75,137.40 L126.25,137.41 L126.75,137.42 L127.25,137.43 L127.75,137.43 L128.25,137.44 L128.75,137.44 L129.25,137.45 L129.75,137.44 L130.25,137.43 L130.75,137.42 L131.25,137.38 L131.75,137.32 L132.25,137.22 L132.75,137.04 L133.25,136.77 L133.75,136.50 L134.25,136.51 L134.75,136.81 L135.25,137.12 L135.75,137.32 L136.25,137.46 L136.75,137.54 L137.25,137.61 L137.75,137.66 L138.25,137.69 L138.75,137.73 L139.25,137.75 L139.75,137.78 L140.25,137.80 L140.75,137.82 L141.25,137.84 L141.75,137.86 L142.25,137.88 L142.75,137.90 L143.25,137.92 L143.75,137.94 L144.25,137.96 L144.75,137.97 L145.25,137.99 L145.75,138.01 L146.25,138.03 L146.75,138.04 L147.25,138.06 L147.75,138.08 L148.25,138.10 L148.75,138.11 L149.25,138.13 L149.75,138.15 L150.25,138.16 L150.75,138.18 L151.25,138.20 L151.75,138.21 L152.25,138.23 L152.75,138.25 L153.25,138.27 L153.75,138.28" fill="none" stroke="#3a6c9e" stroke-width="1.35" stroke-linejoin="round"/>
<text x="133.90" y="132.30" font-size="8.8" font-weight="bold" text-anchor="middle" fill="#1a1a1a" stroke="#1a1a1a" stroke-width="0.18" stroke-linejoin="round">10.3</text>
<path d="M22.00,166.68 L22.50,166.24 L23.00,165.83 L23.50,165.45 L24.00,165.09 L24.50,164.75 L25.00,164.43 L25.50,164.14 L26.00,163.85 L26.50,163.59 L27.00,163.34 L27.50,163.10 L28.00,162.88 L28.50,162.66 L29.00,162.45 L29.50,162.24 L30.00,162.03 L30.50,161.81 L31.00,161.57 L31.50,161.29 L31.75,161.13 L32.00,160.94 L32.25,160.73 L32.50,160.47 L32.75,160.15 L33.00,159.76 L33.25,159.26 L33.50,158.60 L33.75,157.74 L34.00,156.61 L34.25,155.17 L34.50,153.54 L34.75,152.09 L35.00,151.47 L35.25,152.03 L35.50,153.41 L35.75,154.98 L36.00,156.36 L36.25,157.42 L36.50,158.22 L36.75,158.81 L37.00,159.25 L37.25,159.57 L37.50,159.81 L37.75,160.00 L38.00,160.14 L38.25,160.25 L38.50,160.33 L38.75,160.40 L39.00,160.44 L39.50,160.51 L40.00,160.54 L40.50,160.54 L41.00,160.53 L41.50,160.51 L42.00,160.48 L42.50,160.44 L43.00,160.39 L43.50,160.34 L44.00,160.29 L44.50,160.23 L45.00,160.17 L45.50,160.11 L46.00,160.05 L46.50,159.99 L47.00,159.93 L47.50,159.87 L48.00,159.80 L48.50,159.75 L49.00,159.69 L49.50,159.63 L50.00,159.58 L50.50,159.53 L51.00,159.48 L51.50,159.43 L52.00,159.39 L52.50,159.34 L53.00,159.31 L53.50,159.27 L54.00,159.23 L54.50,159.20 L55.00,159.17 L55.50,159.15 L56.00,159.12 L56.50,159.10 L57.00,159.07 L57.50,159.05 L58.00,159.03 L58.50,159.02 L59.00,159.00 L59.50,158.98 L60.00,158.97 L60.50,158.96 L61.00,158.94 L61.50,158.93 L62.00,158.92 L62.50,158.91 L63.00,158.90 L63.50,158.89 L64.00,158.88 L64.50,158.87 L65.00,158.86 L65.50,158.85 L66.00,158.84 L66.50,158.84 L67.00,158.83 L67.50,158.82 L68.00,158.81 L68.50,158.81 L69.00,158.80 L69.50,158.79 L70.00,158.79 L70.50,158.78 L71.00,158.77 L71.50,158.77 L72.00,158.76 L72.50,158.75 L73.00,158.75 L73.50,158.74 L74.00,158.73 L74.50,158.72 L75.00,158.72 L75.50,158.71 L76.00,158.70 L76.50,158.69 L77.00,158.68 L77.50,158.67 L78.00,158.66 L78.50,158.65 L79.00,158.63 L79.50,158.61 L80.00,158.58 L80.50,158.54 L81.00,158.49 L81.25,158.46 L81.50,158.43 L81.75,158.38 L82.00,158.33 L82.25,158.26 L82.50,158.17 L82.75,158.07 L83.00,157.93 L83.25,157.77 L83.50,157.57 L83.75,157.35 L84.00,157.13 L84.25,156.97 L84.50,156.90 L84.75,156.97 L85.00,157.13 L85.25,157.35 L85.50,157.57 L85.75,157.76 L86.00,157.93 L86.25,158.06 L86.50,158.16 L86.75,158.25 L87.00,158.31 L87.25,158.37 L87.50,158.41 L87.75,158.45 L88.00,158.48 L88.25,158.50 L88.50,158.53 L89.00,158.56 L89.50,158.58 L90.00,158.60 L90.50,158.62 L91.00,158.63 L91.50,158.64 L92.00,158.65 L92.50,158.66 L93.00,158.66 L93.50,158.67 L94.00,158.67 L94.50,158.68 L95.00,158.68 L95.50,158.69 L96.00,158.69 L96.50,158.70 L97.00,158.70 L97.50,158.70 L98.00,158.71 L98.50,158.71 L99.00,158.72 L99.50,158.72 L100.00,158.72 L100.50,158.73 L101.00,158.73 L101.50,158.74 L102.00,158.74 L102.50,158.75 L103.00,158.75 L103.50,158.75 L104.00,158.76 L104.50,158.76 L105.00,158.77 L105.50,158.77 L106.00,158.78 L106.50,158.78 L107.00,158.79 L107.50,158.80 L108.00,158.80 L108.50,158.81 L109.00,158.81 L109.50,158.82 L110.00,158.82 L110.50,158.83 L111.00,158.84 L111.50,158.84 L112.00,158.85 L112.50,158.86 L113.00,158.86 L113.50,158.87 L114.00,158.88 L114.50,158.88 L115.00,158.89 L115.50,158.90 L116.00,158.90 L116.50,158.91 L117.00,158.92 L117.50,158.92 L118.00,158.93 L118.50,158.94 L119.00,158.95 L119.50,158.95 L120.00,158.96 L120.50,158.97 L121.00,158.98 L121.50,158.99 L122.00,158.99 L122.50,159.00 L123.00,159.01 L123.50,159.02 L124.00,159.02 L124.50,159.03 L125.00,159.04 L125.50,159.04 L126.00,159.05 L126.50,159.06 L127.00,159.06 L127.50,159.07 L128.00,159.07 L128.50,159.07 L129.00,159.07 L129.50,159.07 L130.00,159.06 L130.50,159.04 L131.00,159.01 L131.50,158.96 L132.00,158.88 L132.50,158.74 L133.00,158.51 L133.50,158.20 L134.00,158.04 L134.50,158.23 L135.00,158.55 L135.50,158.80 L136.00,158.96 L136.50,159.07 L137.00,159.14 L137.50,159.19 L138.00,159.23 L138.50,159.26 L139.00,159.28 L139.50,159.30 L140.00,159.32 L140.50,159.34 L141.00,159.36 L141.50,159.37 L142.00,159.39 L142.50,159.40 L143.00,159.42 L143.50,159.43 L144.00,159.44 L144.50,159.46 L145.00,159.47 L145.50,159.48 L146.00,159.50 L146.50,159.51 L147.00,159.52 L147.50,159.53 L148.00,159.55 L148.50,159.56 L149.00,159.57 L149.50,159.58 L150.00,159.59 L150.50,159.61 L151.00,159.62 L151.50,159.63 L152.00,159.64 L152.50,159.66 L153.00,159.67 L153.50,159.68 L154.00,159.69" fill="none" stroke="#2f7789" stroke-width="1.35" stroke-linejoin="round"/>
<text x="134.00" y="153.70" font-size="8.8" font-weight="bold" text-anchor="middle" fill="#1a1a1a" stroke="#1a1a1a" stroke-width="0.18" stroke-linejoin="round">6.3</text>
<path d="M22.00,184.77 L22.50,184.35 L23.00,183.96 L23.50,183.59 L24.00,183.24 L24.50,182.91 L25.00,182.60 L25.50,182.31 L26.00,182.04 L26.50,181.78 L27.00,181.54 L27.50,181.31 L28.00,181.09 L28.50,180.87 L29.00,180.66 L29.50,180.45 L30.00,180.23 L30.50,179.99 L31.00,179.72 L31.25,179.56 L31.50,179.39 L31.75,179.18 L32.00,178.94 L32.25,178.65 L32.50,178.30 L32.75,177.84 L33.00,177.25 L33.25,176.48 L33.50,175.46 L33.75,174.15 L34.00,172.57 L34.25,170.98 L34.50,169.95 L34.75,170.04 L35.00,171.17 L35.25,172.74 L35.50,174.21 L35.75,175.41 L36.00,176.31 L36.25,176.97 L36.50,177.47 L36.75,177.83 L37.00,178.11 L37.25,178.31 L37.50,178.47 L37.75,178.60 L38.00,178.69 L38.25,178.76 L38.50,178.82 L38.75,178.86 L39.25,178.92 L39.75,178.95 L40.25,178.95 L40.75,178.94 L41.25,178.92 L41.75,178.89 L42.25,178.86 L42.75,178.81 L43.25,178.77 L43.75,178.71 L44.25,178.66 L44.75,178.60 L45.25,178.55 L45.75,178.49 L46.25,178.43 L46.75,178.37 L47.25,178.31 L47.75,178.25 L48.25,178.19 L48.75,178.13 L49.25,178.08 L49.75,178.02 L50.25,177.97 L50.75,177.92 L51.25,177.88 L51.75,177.83 L52.25,177.79 L52.75,177.75 L53.25,177.72 L53.75,177.69 L54.25,177.65 L54.75,177.63 L55.25,177.60 L55.75,177.57 L56.25,177.55 L56.75,177.53 L57.25,177.51 L57.75,177.49 L58.25,177.48 L58.75,177.46 L59.25,177.45 L59.75,177.43 L60.25,177.42 L60.75,177.41 L61.25,177.40 L61.75,177.39 L62.25,177.38 L62.75,177.37 L63.25,177.36 L63.75,177.35 L64.25,177.34 L64.75,177.33 L65.25,177.33 L65.75,177.32 L66.25,177.31 L66.75,177.31 L67.25,177.30 L67.75,177.29 L68.25,177.29 L68.75,177.28 L69.25,177.27 L69.75,177.27 L70.25,177.26 L70.75,177.26 L71.25,177.25 L71.75,177.24 L72.25,177.24 L72.75,177.23 L73.25,177.23 L73.75,177.22 L74.25,177.21 L74.75,177.21 L75.25,177.20 L75.75,177.19 L76.25,177.18 L76.75,177.17 L77.25,177.16 L77.75,177.15 L78.25,177.13 L78.75,177.11 L79.25,177.08 L79.75,177.05 L80.25,177.00 L80.50,176.97 L80.75,176.93 L81.00,176.89 L81.25,176.84 L81.50,176.77 L81.75,176.69 L82.00,176.59 L82.25,176.46 L82.50,176.31 L82.75,176.12 L83.00,175.90 L83.25,175.68 L83.50,175.49 L83.75,175.41 L84.00,175.44 L84.25,175.59 L84.50,175.81 L84.75,176.03 L85.00,176.23 L85.25,176.40 L85.50,176.54 L85.75,176.65 L86.00,176.73 L86.25,176.80 L86.50,176.86 L86.75,176.91 L87.00,176.94 L87.25,176.97 L87.50,177.00 L87.75,177.02 L88.00,177.04 L88.50,177.07 L89.00,177.09 L89.50,177.11 L90.00,177.12 L90.50,177.13 L91.00,177.14 L91.50,177.15 L92.00,177.16 L92.50,177.16 L93.00,177.17 L93.50,177.17 L94.00,177.18 L94.50,177.18 L95.00,177.18 L95.50,177.19 L96.00,177.19 L96.50,177.19 L97.00,177.20 L97.50,177.20 L98.00,177.20 L98.50,177.21 L99.00,177.21 L99.50,177.21 L100.00,177.22 L100.50,177.22 L101.00,177.22 L101.50,177.23 L102.00,177.23 L102.50,177.23 L103.00,177.24 L103.50,177.24 L104.00,177.25 L104.50,177.25 L105.00,177.25 L105.50,177.26 L106.00,177.26 L106.50,177.27 L107.00,177.27 L107.50,177.27 L108.00,177.28 L108.50,177.28 L109.00,177.29 L109.50,177.29 L110.00,177.30 L110.50,177.30 L111.00,177.31 L111.50,177.31 L112.00,177.32 L112.50,177.32 L113.00,177.33 L113.50,177.33 L114.00,177.34 L114.50,177.34 L115.00,177.35 L115.50,177.36 L116.00,177.36 L116.50,177.37 L117.00,177.37 L117.50,177.38 L118.00,177.38 L118.50,177.39 L119.00,177.40 L119.50,177.40 L120.00,177.41 L120.50,177.42 L121.00,177.42 L121.50,177.43 L122.00,177.43 L122.50,177.44 L123.00,177.45 L123.50,177.45 L124.00,177.46 L124.50,177.46 L125.00,177.47 L125.50,177.47 L126.00,177.48 L126.50,177.48 L127.00,177.49 L127.50,177.49 L128.00,177.49 L128.50,177.49 L129.00,177.49 L129.50,177.49 L130.00,177.48 L130.50,177.47 L131.00,177.44 L131.50,177.40 L132.00,177.33 L132.50,177.21 L133.00,177.02 L133.50,176.77 L134.00,176.63 L134.50,176.79 L135.00,177.06 L135.50,177.27 L136.00,177.40 L136.50,177.49 L137.00,177.54 L137.50,177.59 L138.00,177.62 L138.50,177.64 L139.00,177.66 L139.50,177.68 L140.00,177.70 L140.50,177.71 L141.00,177.72 L141.50,177.74 L142.00,177.75 L142.50,177.76 L143.00,177.77 L143.50,177.78 L144.00,177.79 L144.50,177.80 L145.00,177.81 L145.50,177.83 L146.00,177.84 L146.50,177.85 L147.00,177.86 L147.50,177.87 L148.00,177.88 L148.50,177.89 L149.00,177.90 L149.50,177.91 L150.00,177.92 L150.50,177.92 L151.00,177.93 L151.50,177.94 L152.00,177.95 L152.50,177.96 L153.00,177.97 L153.50,177.98 L154.00,177.99" fill="none" stroke="#3a9283" stroke-width="1.35" stroke-linejoin="round"/>
<text x="134.20" y="172.00" font-size="8.8" font-weight="bold" text-anchor="middle" fill="#1a1a1a" stroke="#1a1a1a" stroke-width="0.18" stroke-linejoin="round">4.6</text>
<path d="M22.00,203.17 L22.50,202.77 L23.00,202.39 L23.50,202.04 L24.00,201.71 L24.50,201.40 L25.00,201.11 L25.50,200.83 L26.00,200.57 L26.50,200.33 L27.00,200.09 L27.50,199.87 L28.00,199.66 L28.50,199.45 L29.00,199.25 L29.50,199.04 L30.00,198.82 L30.50,198.57 L30.75,198.44 L31.00,198.29 L31.25,198.12 L31.50,197.92 L31.75,197.69 L32.00,197.41 L32.25,197.07 L32.50,196.64 L32.75,196.09 L33.00,195.36 L33.25,194.40 L33.50,193.15 L33.75,191.61 L34.00,189.99 L34.25,188.80 L34.50,188.65 L34.75,189.61 L35.00,191.14 L35.25,192.67 L35.50,193.92 L35.75,194.88 L36.00,195.59 L36.25,196.11 L36.50,196.50 L36.75,196.80 L37.00,197.02 L37.25,197.19 L37.50,197.32 L37.75,197.42 L38.00,197.50 L38.25,197.57 L38.50,197.61 L39.00,197.68 L39.50,197.71 L40.00,197.73 L40.50,197.72 L41.00,197.71 L41.50,197.68 L42.00,197.65 L42.50,197.61 L43.00,197.57 L43.50,197.52 L44.00,197.47 L44.50,197.42 L45.00,197.36 L45.50,197.31 L46.00,197.25 L46.50,197.19 L47.00,197.14 L47.50,197.08 L48.00,197.02 L48.50,196.97 L49.00,196.91 L49.50,196.86 L50.00,196.81 L50.50,196.77 L51.00,196.72 L51.50,196.68 L52.00,196.64 L52.50,196.60 L53.00,196.56 L53.50,196.53 L54.00,196.50 L54.50,196.47 L55.00,196.45 L55.50,196.42 L56.00,196.40 L56.50,196.38 L57.00,196.36 L57.50,196.35 L58.00,196.33 L58.50,196.32 L59.00,196.30 L59.50,196.29 L60.00,196.28 L60.50,196.27 L61.00,196.26 L61.50,196.25 L62.00,196.24 L62.50,196.23 L63.00,196.23 L63.50,196.22 L64.00,196.21 L64.50,196.20 L65.00,196.20 L65.50,196.19 L66.00,196.19 L66.50,196.18 L67.00,196.18 L67.50,196.17 L68.00,196.16 L68.50,196.16 L69.00,196.15 L69.50,196.15 L70.00,196.14 L70.50,196.14 L71.00,196.13 L71.50,196.13 L72.00,196.12 L72.50,196.12 L73.00,196.11 L73.50,196.10 L74.00,196.10 L74.50,196.09 L75.00,196.08 L75.50,196.07 L76.00,196.06 L76.50,196.05 L77.00,196.04 L77.50,196.02 L78.00,196.00 L78.50,195.97 L79.00,195.94 L79.50,195.89 L79.75,195.86 L80.00,195.83 L80.25,195.78 L80.50,195.73 L80.75,195.67 L81.00,195.59 L81.25,195.49 L81.50,195.37 L81.75,195.21 L82.00,195.02 L82.25,194.80 L82.50,194.55 L82.75,194.32 L83.00,194.15 L83.25,194.11 L83.50,194.20 L83.75,194.40 L84.00,194.65 L84.25,194.89 L84.50,195.10 L84.75,195.27 L85.00,195.41 L85.25,195.53 L85.50,195.61 L85.75,195.69 L86.00,195.74 L86.25,195.79 L86.50,195.83 L86.75,195.86 L87.00,195.89 L87.25,195.91 L87.75,195.95 L88.25,195.97 L88.75,195.99 L89.25,196.01 L89.75,196.02 L90.25,196.03 L90.75,196.04 L91.25,196.05 L91.75,196.05 L92.25,196.06 L92.75,196.06 L93.25,196.07 L93.75,196.07 L94.25,196.08 L94.75,196.08 L95.25,196.08 L95.75,196.09 L96.25,196.09 L96.75,196.09 L97.25,196.09 L97.75,196.10 L98.25,196.10 L98.75,196.10 L99.25,196.10 L99.75,196.11 L100.25,196.11 L100.75,196.11 L101.25,196.12 L101.75,196.12 L102.25,196.12 L102.75,196.12 L103.25,196.13 L103.75,196.13 L104.25,196.13 L104.75,196.14 L105.25,196.14 L105.75,196.14 L106.25,196.15 L106.75,196.15 L107.25,196.15 L107.75,196.16 L108.25,196.16 L108.75,196.16 L109.25,196.17 L109.75,196.17 L110.25,196.17 L110.75,196.18 L111.25,196.18 L111.75,196.18 L112.25,196.19 L112.75,196.19 L113.25,196.20 L113.75,196.20 L114.25,196.20 L114.75,196.21 L115.25,196.21 L115.75,196.22 L116.25,196.22 L116.75,196.23 L117.25,196.23 L117.75,196.23 L118.25,196.24 L118.75,196.24 L119.25,196.25 L119.75,196.25 L120.25,196.26 L120.75,196.26 L121.25,196.27 L121.75,196.27 L122.25,196.27 L122.75,196.28 L123.25,196.28 L123.75,196.29 L124.25,196.29 L124.75,196.29 L125.25,196.30 L125.75,196.30 L126.25,196.30 L126.75,196.31 L127.25,196.31 L127.75,196.31 L128.25,196.31 L128.75,196.31 L129.25,196.30 L129.75,196.30 L130.25,196.28 L130.75,196.26 L131.25,196.23 L131.75,196.17 L132.25,196.08 L132.75,195.93 L133.25,195.69 L133.75,195.46 L134.25,195.47 L134.75,195.71 L135.25,195.96 L135.75,196.12 L136.25,196.23 L136.75,196.30 L137.25,196.34 L137.75,196.38 L138.25,196.40 L138.75,196.42 L139.25,196.44 L139.75,196.46 L140.25,196.47 L140.75,196.48 L141.25,196.49 L141.75,196.50 L142.25,196.51 L142.75,196.52 L143.25,196.53 L143.75,196.54 L144.25,196.55 L144.75,196.55 L145.25,196.56 L145.75,196.57 L146.25,196.58 L146.75,196.59 L147.25,196.59 L147.75,196.60 L148.25,196.61 L148.75,196.62 L149.25,196.62 L149.75,196.63 L150.25,196.64 L150.75,196.65 L151.25,196.65 L151.75,196.66 L152.25,196.67 L152.75,196.68 L153.25,196.68 L153.75,196.69" fill="none" stroke="#3fa06e" stroke-width="1.35" stroke-linejoin="round"/>
<text x="134.30" y="190.70" font-size="8.8" font-weight="bold" text-anchor="middle" fill="#1a1a1a" stroke="#1a1a1a" stroke-width="0.18" stroke-linejoin="round">3.4</text>
<path d="M22.00,220.76 L22.50,220.46 L23.00,220.17 L23.50,219.90 L24.00,219.65 L24.50,219.41 L25.00,219.19 L25.50,218.97 L26.00,218.77 L26.50,218.59 L27.00,218.40 L27.50,218.23 L28.00,218.06 L28.50,217.89 L29.00,217.72 L29.50,217.53 L30.00,217.32 L30.50,217.08 L30.75,216.93 L31.00,216.76 L31.25,216.56 L31.50,216.31 L31.75,216.01 L32.00,215.63 L32.25,215.15 L32.50,214.50 L32.75,213.66 L33.00,212.54 L33.25,211.11 L33.50,209.49 L33.75,208.06 L34.00,207.46 L34.25,208.03 L34.50,209.42 L34.75,211.01 L35.00,212.39 L35.25,213.47 L35.50,214.29 L35.75,214.89 L36.00,215.33 L36.25,215.67 L36.50,215.93 L36.75,216.13 L37.00,216.28 L37.25,216.40 L37.50,216.50 L37.75,216.58 L38.00,216.64 L38.50,216.73 L39.00,216.78 L39.50,216.81 L40.00,216.83 L40.50,216.83 L41.00,216.82 L41.50,216.80 L42.00,216.78 L42.50,216.75 L43.00,216.71 L43.50,216.68 L44.00,216.63 L44.50,216.59 L45.00,216.54 L45.50,216.49 L46.00,216.44 L46.50,216.39 L47.00,216.34 L47.50,216.29 L48.00,216.24 L48.50,216.19 L49.00,216.14 L49.50,216.10 L50.00,216.05 L50.50,216.01 L51.00,215.97 L51.50,215.93 L52.00,215.90 L52.50,215.86 L53.00,215.83 L53.50,215.80 L54.00,215.78 L54.50,215.75 L55.00,215.73 L55.50,215.71 L56.00,215.69 L56.50,215.68 L57.00,215.66 L57.50,215.65 L58.00,215.64 L58.50,215.62 L59.00,215.61 L59.50,215.60 L60.00,215.60 L60.50,215.59 L61.00,215.58 L61.50,215.57 L62.00,215.57 L62.50,215.56 L63.00,215.56 L63.50,215.55 L64.00,215.55 L64.50,215.54 L65.00,215.54 L65.50,215.53 L66.00,215.53 L66.50,215.52 L67.00,215.52 L67.50,215.51 L68.00,215.51 L68.50,215.51 L69.00,215.50 L69.50,215.50 L70.00,215.49 L70.50,215.48 L71.00,215.48 L71.50,215.47 L72.00,215.47 L72.50,215.46 L73.00,215.45 L73.50,215.44 L74.00,215.43 L74.50,215.42 L75.00,215.40 L75.50,215.38 L76.00,215.36 L76.50,215.33 L77.00,215.30 L77.50,215.26 L78.00,215.20 L78.50,215.13 L78.75,215.08 L79.00,215.02 L79.25,214.95 L79.50,214.87 L79.75,214.77 L80.00,214.64 L80.25,214.49 L80.50,214.29 L80.75,214.05 L81.00,213.74 L81.25,213.37 L81.50,212.93 L81.75,212.46 L82.00,212.03 L82.25,211.75 L82.50,211.72 L82.75,211.96 L83.00,212.37 L83.25,212.84 L83.50,213.28 L83.75,213.67 L84.00,213.99 L84.25,214.24 L84.50,214.45 L84.75,214.61 L85.00,214.74 L85.25,214.84 L85.50,214.93 L85.75,215.00 L86.00,215.06 L86.25,215.11 L86.50,215.15 L87.00,215.22 L87.50,215.27 L88.00,215.30 L88.50,215.33 L89.00,215.35 L89.50,215.37 L90.00,215.39 L90.50,215.40 L91.00,215.41 L91.50,215.42 L92.00,215.43 L92.50,215.44 L93.00,215.44 L93.50,215.45 L94.00,215.45 L94.50,215.46 L95.00,215.46 L95.50,215.46 L96.00,215.47 L96.50,215.47 L97.00,215.47 L97.50,215.48 L98.00,215.48 L98.50,215.48 L99.00,215.48 L99.50,215.49 L100.00,215.49 L100.50,215.49 L101.00,215.49 L101.50,215.49 L102.00,215.50 L102.50,215.50 L103.00,215.50 L103.50,215.50 L104.00,215.50 L104.50,215.51 L105.00,215.51 L105.50,215.51 L106.00,215.51 L106.50,215.51 L107.00,215.51 L107.50,215.52 L108.00,215.52 L108.50,215.52 L109.00,215.52 L109.50,215.52 L110.00,215.53 L110.50,215.53 L111.00,215.53 L111.50,215.53 L112.00,215.53 L112.50,215.54 L113.00,215.54 L113.50,215.54 L114.00,215.54 L114.50,215.54 L115.00,215.55 L115.50,215.55 L116.00,215.55 L116.50,215.55 L117.00,215.55 L117.50,215.56 L118.00,215.56 L118.50,215.56 L119.00,215.56 L119.50,215.56 L120.00,215.57 L120.50,215.57 L121.00,215.57 L121.50,215.57 L122.00,215.57 L122.50,215.57 L123.00,215.58 L123.50,215.58 L124.00,215.58 L124.50,215.58 L125.00,215.58 L125.50,215.58 L126.00,215.58 L126.50,215.58 L127.00,215.57 L127.50,215.57 L128.00,215.56 L128.50,215.56 L129.00,215.55 L129.50,215.53 L130.00,215.51 L130.50,215.48 L131.00,215.43 L131.50,215.36 L132.00,215.25 L132.50,215.06 L133.00,214.77 L133.50,214.38 L134.00,214.16 L134.50,214.38 L135.00,214.78 L135.50,215.08 L136.00,215.27 L136.50,215.39 L137.00,215.47 L137.50,215.52 L138.00,215.56 L138.50,215.59 L139.00,215.61 L139.50,215.63 L140.00,215.64 L140.50,215.65 L141.00,215.66 L141.50,215.67 L142.00,215.68 L142.50,215.69 L143.00,215.69 L143.50,215.70 L144.00,215.70 L144.50,215.71 L145.00,215.72 L145.50,215.72 L146.00,215.73 L146.50,215.73 L147.00,215.73 L147.50,215.74 L148.00,215.74 L148.50,215.75 L149.00,215.75 L149.50,215.76 L150.00,215.76 L150.50,215.76 L151.00,215.77 L151.50,215.77 L152.00,215.78 L152.50,215.78 L153.00,215.78 L153.50,215.79 L154.00,215.79" fill="none" stroke="#57c24b" stroke-width="1.35" stroke-linejoin="round"/>
<text x="134.40" y="209.80" font-size="8.8" font-weight="bold" text-anchor="middle" fill="#1a1a1a" stroke="#1a1a1a" stroke-width="0.18" stroke-linejoin="round">1.2</text>
<path d="M22.00,238.15 L22.50,237.91 L23.00,237.67 L23.50,237.46 L24.00,237.25 L24.50,237.06 L25.00,236.87 L25.50,236.70 L26.00,236.54 L26.50,236.38 L27.00,236.22 L27.50,236.07 L28.00,235.92 L28.50,235.76 L29.00,235.59 L29.50,235.39 L30.00,235.16 L30.25,235.01 L30.50,234.85 L30.75,234.65 L31.00,234.42 L31.25,234.12 L31.50,233.75 L31.75,233.28 L32.00,232.66 L32.25,231.83 L32.50,230.74 L32.75,229.31 L33.00,227.59 L33.25,225.87 L33.50,224.77 L33.75,224.89 L34.00,226.15 L34.25,227.89 L34.50,229.54 L34.75,230.87 L35.00,231.88 L35.25,232.63 L35.50,233.19 L35.75,233.61 L36.00,233.93 L36.25,234.18 L36.50,234.38 L36.75,234.53 L37.00,234.65 L37.25,234.75 L37.50,234.83 L37.75,234.90 L38.25,235.00 L38.75,235.06 L39.25,235.10 L39.75,235.13 L40.25,235.14 L40.75,235.14 L41.25,235.13 L41.75,235.11 L42.25,235.09 L42.75,235.06 L43.25,235.03 L43.75,234.99 L44.25,234.95 L44.75,234.91 L45.25,234.86 L45.75,234.81 L46.25,234.77 L46.75,234.72 L47.25,234.67 L47.75,234.62 L48.25,234.58 L48.75,234.53 L49.25,234.48 L49.75,234.44 L50.25,234.40 L50.75,234.36 L51.25,234.32 L51.75,234.29 L52.25,234.26 L52.75,234.23 L53.25,234.20 L53.75,234.17 L54.25,234.15 L54.75,234.13 L55.25,234.11 L55.75,234.09 L56.25,234.07 L56.75,234.06 L57.25,234.04 L57.75,234.03 L58.25,234.02 L58.75,234.01 L59.25,234.00 L59.75,233.99 L60.25,233.99 L60.75,233.98 L61.25,233.97 L61.75,233.97 L62.25,233.96 L62.75,233.96 L63.25,233.95 L63.75,233.95 L64.25,233.94 L64.75,233.94 L65.25,233.94 L65.75,233.93 L66.25,233.93 L66.75,233.92 L67.25,233.92 L67.75,233.92 L68.25,233.91 L68.75,233.91 L69.25,233.90 L69.75,233.90 L70.25,233.90 L70.75,233.89 L71.25,233.89 L71.75,233.88 L72.25,233.87 L72.75,233.87 L73.25,233.86 L73.75,233.85 L74.25,233.84 L74.75,233.83 L75.25,233.81 L75.75,233.80 L76.25,233.77 L76.75,233.75 L77.25,233.71 L77.75,233.66 L78.00,233.63 L78.25,233.59 L78.50,233.55 L78.75,233.50 L79.00,233.43 L79.25,233.35 L79.50,233.26 L79.75,233.13 L80.00,232.98 L80.25,232.79 L80.50,232.55 L80.75,232.27 L81.00,231.96 L81.25,231.67 L81.50,231.46 L81.75,231.40 L82.00,231.53 L82.25,231.78 L82.50,232.08 L82.75,232.38 L83.00,232.65 L83.25,232.86 L83.50,233.04 L83.75,233.18 L84.00,233.29 L84.25,233.38 L84.50,233.45 L84.75,233.51 L85.00,233.56 L85.25,233.60 L85.50,233.63 L85.75,233.66 L86.25,233.71 L86.75,233.74 L87.25,233.76 L87.75,233.78 L88.25,233.80 L88.75,233.81 L89.25,233.82 L89.75,233.83 L90.25,233.84 L90.75,233.84 L91.25,233.85 L91.75,233.85 L92.25,233.86 L92.75,233.86 L93.25,233.86 L93.75,233.87 L94.25,233.87 L94.75,233.87 L95.25,233.87 L95.75,233.88 L96.25,233.88 L96.75,233.88 L97.25,233.88 L97.75,233.88 L98.25,233.89 L98.75,233.89 L99.25,233.89 L99.75,233.89 L100.25,233.89 L100.75,233.89 L101.25,233.89 L101.75,233.89 L102.25,233.90 L102.75,233.90 L103.25,233.90 L103.75,233.90 L104.25,233.90 L104.75,233.90 L105.25,233.90 L105.75,233.90 L106.25,233.90 L106.75,233.90 L107.25,233.91 L107.75,233.91 L108.25,233.91 L108.75,233.91 L109.25,233.90 L109.75,233.90 L110.25,233.90 L110.75,233.90 L111.25,233.90 L111.75,233.89 L112.25,233.89 L112.75,233.88 L113.25,233.87 L113.75,233.86 L114.25,233.83 L114.75,233.80 L115.25,233.76 L115.75,233.69 L116.25,233.57 L116.75,233.38 L117.25,233.10 L117.75,232.81 L118.25,232.81 L118.75,233.10 L119.25,233.39 L119.75,233.58 L120.25,233.70 L120.75,233.78 L121.25,233.83 L121.75,233.86 L122.25,233.89 L122.75,233.91 L123.25,233.92 L123.75,233.93 L124.25,233.94 L124.75,233.95 L125.25,233.95 L125.75,233.96 L126.25,233.96 L126.75,233.96 L127.25,233.96 L127.75,233.96 L128.25,233.96 L128.75,233.95 L129.25,233.94 L129.75,233.93 L130.25,233.91 L130.75,233.88 L131.25,233.84 L131.75,233.77 L132.25,233.66 L132.75,233.47 L133.25,233.18 L133.75,232.90 L134.25,232.90 L134.75,233.20 L135.25,233.49 L135.75,233.68 L136.25,233.80 L136.75,233.88 L137.25,233.93 L137.75,233.97 L138.25,233.99 L138.75,234.01 L139.25,234.03 L139.75,234.04 L140.25,234.05 L140.75,234.06 L141.25,234.07 L141.75,234.08 L142.25,234.09 L142.75,234.09 L143.25,234.10 L143.75,234.10 L144.25,234.11 L144.75,234.11 L145.25,234.12 L145.75,234.12 L146.25,234.13 L146.75,234.13 L147.25,234.14 L147.75,234.14 L148.25,234.15 L148.75,234.15 L149.25,234.15 L149.75,234.16 L150.25,234.16 L150.75,234.17 L151.25,234.17 L151.75,234.17 L152.25,234.18 L152.75,234.18 L153.25,234.19 L153.75,234.19" fill="none" stroke="#86b83a" stroke-width="1.35" stroke-linejoin="round"/>
<text x="134.80" y="228.20" font-size="8.8" font-weight="bold" text-anchor="middle" fill="#1a1a1a" stroke="#1a1a1a" stroke-width="0.18" stroke-linejoin="round">0.8</text>
<path d="M22.00,257.44 L22.50,257.13 L23.00,256.84 L23.50,256.57 L24.00,256.31 L24.50,256.07 L25.00,255.84 L25.50,255.62 L26.00,255.41 L26.50,255.21 L27.00,255.01 L27.50,254.81 L28.00,254.61 L28.50,254.39 L29.00,254.15 L29.50,253.87 L29.75,253.70 L30.00,253.51 L30.25,253.28 L30.50,253.01 L30.75,252.68 L31.00,252.26 L31.25,251.72 L31.50,251.01 L31.75,250.07 L32.00,248.83 L32.25,247.27 L32.50,245.48 L32.75,243.90 L33.00,243.23 L33.25,243.86 L33.50,245.39 L33.75,247.13 L34.00,248.66 L34.25,249.85 L34.50,250.74 L34.75,251.40 L35.00,251.89 L35.25,252.26 L35.50,252.54 L35.75,252.76 L36.00,252.93 L36.25,253.07 L36.50,253.18 L36.75,253.26 L37.00,253.33 L37.50,253.44 L38.00,253.50 L38.50,253.54 L39.00,253.57 L39.50,253.58 L40.00,253.58 L40.50,253.57 L41.00,253.55 L41.50,253.53 L42.00,253.50 L42.50,253.46 L43.00,253.43 L43.50,253.39 L44.00,253.34 L44.50,253.29 L45.00,253.24 L45.50,253.19 L46.00,253.14 L46.50,253.09 L47.00,253.04 L47.50,252.99 L48.00,252.94 L48.50,252.89 L49.00,252.84 L49.50,252.80 L50.00,252.75 L50.50,252.71 L51.00,252.67 L51.50,252.63 L52.00,252.60 L52.50,252.56 L53.00,252.53 L53.50,252.50 L54.00,252.48 L54.50,252.45 L55.00,252.43 L55.50,252.41 L56.00,252.39 L56.50,252.37 L57.00,252.36 L57.50,252.35 L58.00,252.33 L58.50,252.32 L59.00,252.31 L59.50,252.30 L60.00,252.29 L60.50,252.28 L61.00,252.28 L61.50,252.27 L62.00,252.26 L62.50,252.26 L63.00,252.25 L63.50,252.25 L64.00,252.24 L64.50,252.24 L65.00,252.23 L65.50,252.23 L66.00,252.22 L66.50,252.22 L67.00,252.21 L67.50,252.21 L68.00,252.20 L68.50,252.20 L69.00,252.19 L69.50,252.19 L70.00,252.18 L70.50,252.17 L71.00,252.17 L71.50,252.16 L72.00,252.15 L72.50,252.14 L73.00,252.13 L73.50,252.11 L74.00,252.10 L74.50,252.08 L75.00,252.06 L75.50,252.03 L76.00,251.99 L76.50,251.95 L77.00,251.89 L77.50,251.81 L77.75,251.75 L78.00,251.69 L78.25,251.62 L78.50,251.53 L78.75,251.42 L79.00,251.28 L79.25,251.11 L79.50,250.90 L79.75,250.63 L80.00,250.30 L80.25,249.90 L80.50,249.44 L80.75,248.98 L81.00,248.59 L81.25,248.40 L81.50,248.49 L81.75,248.80 L82.00,249.25 L82.25,249.72 L82.50,250.14 L82.75,250.50 L83.00,250.79 L83.25,251.03 L83.50,251.21 L83.75,251.36 L84.00,251.48 L84.25,251.58 L84.50,251.66 L84.75,251.72 L85.00,251.78 L85.25,251.82 L85.50,251.86 L86.00,251.92 L86.50,251.97 L87.00,252.00 L87.50,252.03 L88.00,252.05 L88.50,252.07 L89.00,252.09 L89.50,252.10 L90.00,252.11 L90.50,252.12 L91.00,252.12 L91.50,252.13 L92.00,252.13 L92.50,252.14 L93.00,252.14 L93.50,252.15 L94.00,252.15 L94.50,252.15 L95.00,252.16 L95.50,252.16 L96.00,252.16 L96.50,252.16 L97.00,252.17 L97.50,252.17 L98.00,252.17 L98.50,252.17 L99.00,252.17 L99.50,252.17 L100.00,252.17 L100.50,252.17 L101.00,252.18 L101.50,252.18 L102.00,252.18 L102.50,252.18 L103.00,252.18 L103.50,252.18 L104.00,252.18 L104.50,252.18 L105.00,252.18 L105.50,252.18 L106.00,252.18 L106.50,252.17 L107.00,252.17 L107.50,252.17 L108.00,252.17 L108.50,252.16 L109.00,252.16 L109.50,252.15 L110.00,252.14 L110.50,252.13 L111.00,252.12 L111.50,252.10 L112.00,252.07 L112.50,252.04 L113.00,251.99 L113.50,251.93 L114.00,251.82 L114.50,251.66 L115.00,251.41 L115.50,251.00 L116.00,250.46 L116.50,250.15 L117.00,250.42 L117.50,250.92 L118.00,251.27 L118.50,251.45 L119.00,251.49 L119.50,251.40 L120.00,251.17 L120.50,250.82 L121.00,250.63 L121.50,250.88 L122.00,251.29 L122.50,251.61 L123.00,251.81 L123.50,251.93 L124.00,252.01 L124.50,252.07 L125.00,252.11 L125.50,252.13 L126.00,252.15 L126.50,252.16 L127.00,252.17 L127.50,252.18 L128.00,252.18 L128.50,252.17 L129.00,252.16 L129.50,252.14 L130.00,252.10 L130.50,252.05 L131.00,251.97 L131.50,251.83 L132.00,251.61 L132.50,251.26 L133.00,250.79 L133.50,250.53 L134.00,250.80 L134.50,251.28 L135.00,251.64 L135.50,251.87 L136.00,252.02 L136.50,252.11 L137.00,252.17 L137.50,252.22 L138.00,252.25 L138.50,252.28 L139.00,252.30 L139.50,252.31 L140.00,252.33 L140.50,252.34 L141.00,252.35 L141.50,252.36 L142.00,252.37 L142.50,252.38 L143.00,252.38 L143.50,252.39 L144.00,252.40 L144.50,252.40 L145.00,252.41 L145.50,252.41 L146.00,252.42 L146.50,252.42 L147.00,252.43 L147.50,252.43 L148.00,252.44 L148.50,252.44 L149.00,252.45 L149.50,252.45 L150.00,252.45 L150.50,252.46 L151.00,252.46 L151.50,252.47 L152.00,252.47 L152.50,252.48 L153.00,252.48 L153.50,252.48 L154.00,252.49" fill="none" stroke="#b0a436" stroke-width="1.35" stroke-linejoin="round"/>
<text x="135.30" y="246.50" font-size="8.8" font-weight="bold" text-anchor="middle" fill="#1a1a1a" stroke="#1a1a1a" stroke-width="0.18" stroke-linejoin="round">1 atm</text>
<text x="157.80" y="15.90" font-size="20" font-weight="normal" text-anchor="start" fill="#111">b</text>
<line x1="195.50" y1="8.50" x2="320.50" y2="8.50" stroke="#505050" stroke-width="1.0" stroke-linecap="square"/>
<line x1="195.50" y1="124.50" x2="320.50" y2="124.50" stroke="#505050" stroke-width="1.0" stroke-linecap="square"/>
<line x1="195.50" y1="8.50" x2="195.50" y2="124.50" stroke="#505050" stroke-width="1.0" stroke-linecap="square"/>
<line x1="320.50" y1="8.50" x2="320.50" y2="124.50" stroke="#505050" stroke-width="1.0" stroke-linecap="square"/>
<line x1="199.80" y1="124.60" x2="199.80" y2="127.40" stroke="#505050" stroke-width="0.9" />
<line x1="229.20" y1="124.60" x2="229.20" y2="127.40" stroke="#505050" stroke-width="0.9" />
<line x1="258.60" y1="124.60" x2="258.60" y2="127.40" stroke="#505050" stroke-width="0.9" />
<line x1="288.00" y1="124.60" x2="288.00" y2="127.40" stroke="#505050" stroke-width="0.9" />
<line x1="317.40" y1="124.60" x2="317.40" y2="127.40" stroke="#505050" stroke-width="0.9" />
<line x1="214.50" y1="124.60" x2="214.50" y2="126.40" stroke="#505050" stroke-width="0.9" />
<line x1="243.90" y1="124.60" x2="243.90" y2="126.40" stroke="#505050" stroke-width="0.9" />
<line x1="273.30" y1="124.60" x2="273.30" y2="126.40" stroke="#505050" stroke-width="0.9" />
<line x1="302.70" y1="124.60" x2="302.70" y2="126.40" stroke="#505050" stroke-width="0.9" />
<text x="199.80" y="134.00" font-size="8" font-weight="bold" text-anchor="middle" fill="#1a1a1a" stroke="#1a1a1a" stroke-width="0.18" stroke-linejoin="round">0</text>
<text x="229.20" y="134.00" font-size="8" font-weight="bold" text-anchor="middle" fill="#1a1a1a" stroke="#1a1a1a" stroke-width="0.18" stroke-linejoin="round">6</text>
<text x="258.60" y="134.00" font-size="8" font-weight="bold" text-anchor="middle" fill="#1a1a1a" stroke="#1a1a1a" stroke-width="0.18" stroke-linejoin="round">12</text>
<text x="288.00" y="134.00" font-size="8" font-weight="bold" text-anchor="middle" fill="#1a1a1a" stroke="#1a1a1a" stroke-width="0.18" stroke-linejoin="round">18</text>
<text x="317.40" y="134.00" font-size="8" font-weight="bold" text-anchor="middle" fill="#1a1a1a" stroke="#1a1a1a" stroke-width="0.18" stroke-linejoin="round">24</text>
<line x1="195.60" y1="124.30" x2="192.80" y2="124.30" stroke="#505050" stroke-width="0.9" />
<line x1="195.60" y1="96.47" x2="192.80" y2="96.47" stroke="#505050" stroke-width="0.9" />
<line x1="195.60" y1="68.65" x2="192.80" y2="68.65" stroke="#505050" stroke-width="0.9" />
<line x1="195.60" y1="40.83" x2="192.80" y2="40.83" stroke="#505050" stroke-width="0.9" />
<line x1="195.60" y1="13.00" x2="192.80" y2="13.00" stroke="#505050" stroke-width="0.9" />
<line x1="195.60" y1="110.39" x2="193.80" y2="110.39" stroke="#505050" stroke-width="0.9" />
<line x1="195.60" y1="82.56" x2="193.80" y2="82.56" stroke="#505050" stroke-width="0.9" />
<line x1="195.60" y1="54.74" x2="193.80" y2="54.74" stroke="#505050" stroke-width="0.9" />
<line x1="195.60" y1="26.91" x2="193.80" y2="26.91" stroke="#505050" stroke-width="0.9" />
<text x="192.40" y="126.60" font-size="8" font-weight="bold" text-anchor="end" fill="#1a1a1a" stroke="#1a1a1a" stroke-width="0.18" stroke-linejoin="round">1500</text>
<text x="192.40" y="98.77" font-size="8" font-weight="bold" text-anchor="end" fill="#1a1a1a" stroke="#1a1a1a" stroke-width="0.18" stroke-linejoin="round">1800</text>
<text x="192.40" y="70.95" font-size="8" font-weight="bold" text-anchor="end" fill="#1a1a1a" stroke="#1a1a1a" stroke-width="0.18" stroke-linejoin="round">2100</text>
<text x="192.40" y="43.12" font-size="8" font-weight="bold" text-anchor="end" fill="#1a1a1a" stroke="#1a1a1a" stroke-width="0.18" stroke-linejoin="round">2400</text>
<text x="192.40" y="15.30" font-size="8" font-weight="bold" text-anchor="end" fill="#1a1a1a" stroke="#1a1a1a" stroke-width="0.18" stroke-linejoin="round">2700</text>
<text x="260.50" y="145.40" font-size="9.6" font-weight="bold" text-anchor="middle" fill="#1a1a1a" textLength="69.5" lengthAdjust="spacingAndGlyphs" stroke="#1a1a1a" stroke-width="0.18" stroke-linejoin="round">Pressure (GPa)</text>
<text x="172.20" y="67.00" font-size="11.2" font-weight="bold" text-anchor="middle" fill="#1a1a1a" transform="rotate(-90 172.20 67.00)" stroke="#1a1a1a" stroke-width="0.18" stroke-linejoin="round">Lattice volume (Å<tspan font-size="7" dy="-3.5">3</tspan><tspan dy="3.5">)</tspan></text>
<polyline points="199.80,13.60 202.25,18.20 204.21,21.50 205.68,23.80 211.07,30.10 216.46,37.40 222.34,43.60 230.67,52.30 241.94,61.80 250.27,70.70 266.93,83.60 276.24,91.60 289.96,100.90 311.52,114.50" fill="none" stroke="#5cc04a" stroke-width="0.8"/>
<circle cx="199.80" cy="13.60" r="3.45" fill="url(#sg)"/>
<circle cx="202.25" cy="18.20" r="3.45" fill="url(#sg)"/>
<circle cx="204.21" cy="21.50" r="3.45" fill="url(#sg)"/>
<circle cx="205.68" cy="23.80" r="3.45" fill="url(#sg)"/>
<circle cx="211.07" cy="30.10" r="3.45" fill="url(#sg)"/>
<circle cx="216.46" cy="37.40" r="3.45" fill="url(#sg)"/>
<circle cx="222.34" cy="43.60" r="3.45" fill="url(#sg)"/>
<circle cx="230.67" cy="52.30" r="3.45" fill="url(#sg)"/>
<circle cx="241.94" cy="61.80" r="3.45" fill="url(#sg)"/>
<circle cx="250.27" cy="70.70" r="3.45" fill="url(#sg)"/>
<circle cx="266.93" cy="83.60" r="3.45" fill="url(#sg)"/>
<circle cx="276.24" cy="91.60" r="3.45" fill="url(#sg)"/>
<circle cx="289.96" cy="100.90" r="3.45" fill="url(#sg)"/>
<circle cx="311.52" cy="114.50" r="3.45" fill="url(#sg)"/>
<text x="243.30" y="36.80" font-size="9.9" font-weight="bold" text-anchor="start" fill="#1a1a1a" stroke="#1a1a1a" stroke-width="0.18" stroke-linejoin="round">B<tspan font-size="6.8" dy="2">0</tspan><tspan dy="-2"> = 30.61 GPa</tspan></text>
<text x="243.30" y="53.00" font-size="9.9" font-weight="bold" text-anchor="start" fill="#1a1a1a" stroke="#1a1a1a" stroke-width="0.18" stroke-linejoin="round">V<tspan font-size="6.8" dy="2">0</tspan><tspan dy="-2"> = 2685.11 Å</tspan><tspan font-size="6.8" dy="-3.5">3</tspan></text>
<text x="331.00" y="17.00" font-size="20" font-weight="normal" text-anchor="start" fill="#111">c</text>
<line x1="372.50" y1="7.50" x2="496.50" y2="7.50" stroke="#505050" stroke-width="1.0" stroke-linecap="square"/>
<line x1="372.50" y1="124.50" x2="496.50" y2="124.50" stroke="#505050" stroke-width="1.0" stroke-linecap="square"/>
<line x1="372.50" y1="7.50" x2="372.50" y2="124.50" stroke="#505050" stroke-width="1.0" stroke-linecap="square"/>
<line x1="496.50" y1="7.50" x2="496.50" y2="124.50" stroke="#505050" stroke-width="1.0" stroke-linecap="square"/>
<line x1="372.80" y1="124.90" x2="372.80" y2="127.70" stroke="#505050" stroke-width="0.9" />
<line x1="403.72" y1="124.90" x2="403.72" y2="127.70" stroke="#505050" stroke-width="0.9" />
<line x1="434.64" y1="124.90" x2="434.64" y2="127.70" stroke="#505050" stroke-width="0.9" />
<line x1="465.55" y1="124.90" x2="465.55" y2="127.70" stroke="#505050" stroke-width="0.9" />
<line x1="496.47" y1="124.90" x2="496.47" y2="127.70" stroke="#505050" stroke-width="0.9" />
<line x1="388.26" y1="124.90" x2="388.26" y2="126.70" stroke="#505050" stroke-width="0.9" />
<line x1="419.18" y1="124.90" x2="419.18" y2="126.70" stroke="#505050" stroke-width="0.9" />
<line x1="450.10" y1="124.90" x2="450.10" y2="126.70" stroke="#505050" stroke-width="0.9" />
<line x1="481.01" y1="124.90" x2="481.01" y2="126.70" stroke="#505050" stroke-width="0.9" />
<text x="372.80" y="134.60" font-size="9.2" font-weight="bold" text-anchor="middle" fill="#1a1a1a" stroke="#1a1a1a" stroke-width="0.18" stroke-linejoin="round">0</text>
<text x="403.72" y="134.60" font-size="9.2" font-weight="bold" text-anchor="middle" fill="#1a1a1a" stroke="#1a1a1a" stroke-width="0.18" stroke-linejoin="round">6</text>
<text x="434.64" y="134.60" font-size="9.2" font-weight="bold" text-anchor="middle" fill="#1a1a1a" stroke="#1a1a1a" stroke-width="0.18" stroke-linejoin="round">12</text>
<text x="465.55" y="134.60" font-size="9.2" font-weight="bold" text-anchor="middle" fill="#1a1a1a" stroke="#1a1a1a" stroke-width="0.18" stroke-linejoin="round">18</text>
<text x="496.47" y="134.60" font-size="9.2" font-weight="bold" text-anchor="middle" fill="#1a1a1a" stroke="#1a1a1a" stroke-width="0.18" stroke-linejoin="round">24</text>
<line x1="372.20" y1="11.70" x2="369.40" y2="11.70" stroke="#505050" stroke-width="0.9" />
<line x1="372.20" y1="34.98" x2="369.40" y2="34.98" stroke="#505050" stroke-width="0.9" />
<line x1="372.20" y1="58.25" x2="369.40" y2="58.25" stroke="#505050" stroke-width="0.9" />
<line x1="372.20" y1="81.53" x2="369.40" y2="81.53" stroke="#505050" stroke-width="0.9" />
<line x1="372.20" y1="104.80" x2="369.40" y2="104.80" stroke="#505050" stroke-width="0.9" />
<line x1="372.20" y1="23.34" x2="370.40" y2="23.34" stroke="#505050" stroke-width="0.9" />
<line x1="372.20" y1="46.61" x2="370.40" y2="46.61" stroke="#505050" stroke-width="0.9" />
<line x1="372.20" y1="69.89" x2="370.40" y2="69.89" stroke="#505050" stroke-width="0.9" />
<line x1="372.20" y1="93.16" x2="370.40" y2="93.16" stroke="#505050" stroke-width="0.9" />
<line x1="372.20" y1="116.44" x2="370.40" y2="116.44" stroke="#505050" stroke-width="0.9" />
<text x="369.20" y="15.00" font-size="9.2" font-weight="bold" text-anchor="end" fill="#1a1a1a" stroke="#1a1a1a" stroke-width="0.18" stroke-linejoin="round">1.00</text>
<text x="369.20" y="38.28" font-size="9.2" font-weight="bold" text-anchor="end" fill="#1a1a1a" stroke="#1a1a1a" stroke-width="0.18" stroke-linejoin="round">0.95</text>
<text x="369.20" y="61.55" font-size="9.2" font-weight="bold" text-anchor="end" fill="#1a1a1a" stroke="#1a1a1a" stroke-width="0.18" stroke-linejoin="round">0.90</text>
<text x="369.20" y="84.83" font-size="9.2" font-weight="bold" text-anchor="end" fill="#1a1a1a" stroke="#1a1a1a" stroke-width="0.18" stroke-linejoin="round">0.85</text>
<text x="369.20" y="108.10" font-size="9.2" font-weight="bold" text-anchor="end" fill="#1a1a1a" stroke="#1a1a1a" stroke-width="0.18" stroke-linejoin="round">0.80</text>
<text x="437.60" y="145.40" font-size="9.6" font-weight="bold" text-anchor="middle" fill="#1a1a1a" textLength="69.5" lengthAdjust="spacingAndGlyphs" stroke="#1a1a1a" stroke-width="0.18" stroke-linejoin="round">Pressure (GPa)</text>
<text x="342.80" y="67.00" font-size="11" font-weight="bold" text-anchor="middle" fill="#1a1a1a" textLength="94" lengthAdjust="spacingAndGlyphs" transform="rotate(-90 342.80 67.00)" stroke="#1a1a1a" stroke-width="0.18" stroke-linejoin="round">Axial Compression</text>
<polyline points="372.80,9.30 375.38,10.00 377.44,10.50 378.98,10.80 384.65,11.70 390.32,13.00 396.50,13.90 405.26,15.70 417.12,19.40 425.88,21.60 443.40,26.80 453.19,29.90 467.62,33.90 490.29,42.20" fill="none" stroke="#f2a06a" stroke-width="0.9"/>
<polyline points="372.80,11.50 375.38,14.00 377.44,16.00 378.98,18.00 384.65,21.00 390.32,24.70 396.50,28.40 405.26,31.80 417.12,36.10 425.88,37.90 443.40,40.70 453.19,43.50 467.62,46.90 490.29,52.40" fill="none" stroke="#7fdc6a" stroke-width="0.9"/>
<polyline points="372.80,11.40 375.38,15.40 377.44,17.00 378.98,18.50 384.65,24.00 390.32,29.90 396.50,34.50 405.26,44.70 417.12,54.00 425.88,64.10 443.40,75.50 453.19,82.60 467.62,93.10 490.29,107.90" fill="none" stroke="#6ab4ec" stroke-width="0.9"/>
<polygon points="372.80,6.90 373.99,9.76 377.08,10.01 374.73,12.03 375.45,15.04 372.80,13.43 370.15,15.04 370.87,12.03 368.52,10.01 371.61,9.76" fill="#3a80d0" stroke="none" stroke-width="1" />
<polygon points="375.38,10.90 376.57,13.76 379.66,14.01 377.30,16.03 378.02,19.04 375.38,17.43 372.73,19.04 373.45,16.03 371.10,14.01 374.19,13.76" fill="#3a80d0" stroke="none" stroke-width="1" />
<polygon points="377.44,12.50 378.63,15.36 381.72,15.61 379.36,17.63 380.08,20.64 377.44,19.02 374.79,20.64 375.51,17.63 373.16,15.61 376.25,15.36" fill="#3a80d0" stroke="none" stroke-width="1" />
<polygon points="378.98,14.00 380.17,16.86 383.26,17.11 380.91,19.13 381.63,22.14 378.98,20.52 376.34,22.14 377.06,19.13 374.70,17.11 377.79,16.86" fill="#3a80d0" stroke="none" stroke-width="1" />
<polygon points="384.65,19.50 385.84,22.36 388.93,22.61 386.58,24.63 387.30,27.64 384.65,26.02 382.01,27.64 382.73,24.63 380.37,22.61 383.46,22.36" fill="#3a80d0" stroke="none" stroke-width="1" />
<polygon points="390.32,25.40 391.51,28.26 394.60,28.51 392.25,30.53 392.97,33.54 390.32,31.92 387.68,33.54 388.39,30.53 386.04,28.51 389.13,28.26" fill="#3a80d0" stroke="none" stroke-width="1" />
<polygon points="396.50,30.00 397.69,32.86 400.78,33.11 398.43,35.13 399.15,38.14 396.50,36.52 393.86,38.14 394.58,35.13 392.22,33.11 395.31,32.86" fill="#3a80d0" stroke="none" stroke-width="1" />
<polygon points="405.26,40.20 406.45,43.06 409.54,43.31 407.19,45.33 407.91,48.34 405.26,46.73 402.62,48.34 403.34,45.33 400.98,43.31 404.07,43.06" fill="#3a80d0" stroke="none" stroke-width="1" />
<polygon points="417.12,49.50 418.31,52.36 421.40,52.61 419.04,54.63 419.76,57.64 417.12,56.02 414.47,57.64 415.19,54.63 412.84,52.61 415.93,52.36" fill="#3a80d0" stroke="none" stroke-width="1" />
<polygon points="425.88,59.60 427.07,62.46 430.16,62.71 427.80,64.73 428.52,67.74 425.88,66.12 423.23,67.74 423.95,64.73 421.60,62.71 424.69,62.46" fill="#3a80d0" stroke="none" stroke-width="1" />
<polygon points="443.40,71.00 444.59,73.86 447.68,74.11 445.32,76.13 446.04,79.14 443.40,77.53 440.75,79.14 441.47,76.13 439.12,74.11 442.21,73.86" fill="#3a80d0" stroke="none" stroke-width="1" />
<polygon points="453.19,78.10 454.38,80.96 457.47,81.21 455.11,83.23 455.83,86.24 453.19,84.62 450.54,86.24 451.26,83.23 448.91,81.21 452.00,80.96" fill="#3a80d0" stroke="none" stroke-width="1" />
<polygon points="467.62,88.60 468.81,91.46 471.89,91.71 469.54,93.73 470.26,96.74 467.62,95.12 464.97,96.74 465.69,93.73 463.34,91.71 466.42,91.46" fill="#3a80d0" stroke="none" stroke-width="1" />
<polygon points="490.29,103.40 491.48,106.26 494.57,106.51 492.21,108.53 492.93,111.54 490.29,109.93 487.64,111.54 488.36,108.53 486.01,106.51 489.10,106.26" fill="#3a80d0" stroke="none" stroke-width="1" />
<polygon points="372.80,7.30 377.00,11.50 372.80,15.70 368.60,11.50" fill="#2f8a22" stroke="none" stroke-width="1" />
<polygon points="375.38,9.80 379.58,14.00 375.38,18.20 371.18,14.00" fill="#2f8a22" stroke="none" stroke-width="1" />
<polygon points="377.44,11.80 381.64,16.00 377.44,20.20 373.24,16.00" fill="#2f8a22" stroke="none" stroke-width="1" />
<polygon points="378.98,13.80 383.18,18.00 378.98,22.20 374.78,18.00" fill="#2f8a22" stroke="none" stroke-width="1" />
<polygon points="384.65,16.80 388.85,21.00 384.65,25.20 380.45,21.00" fill="#2f8a22" stroke="none" stroke-width="1" />
<polygon points="390.32,20.50 394.52,24.70 390.32,28.90 386.12,24.70" fill="#2f8a22" stroke="none" stroke-width="1" />
<polygon points="396.50,24.20 400.70,28.40 396.50,32.60 392.30,28.40" fill="#2f8a22" stroke="none" stroke-width="1" />
<polygon points="405.26,27.60 409.46,31.80 405.26,36.00 401.06,31.80" fill="#2f8a22" stroke="none" stroke-width="1" />
<polygon points="417.12,31.90 421.32,36.10 417.12,40.30 412.92,36.10" fill="#2f8a22" stroke="none" stroke-width="1" />
<polygon points="425.88,33.70 430.08,37.90 425.88,42.10 421.68,37.90" fill="#2f8a22" stroke="none" stroke-width="1" />
<polygon points="443.40,36.50 447.60,40.70 443.40,44.90 439.20,40.70" fill="#2f8a22" stroke="none" stroke-width="1" />
<polygon points="453.19,39.30 457.39,43.50 453.19,47.70 448.99,43.50" fill="#2f8a22" stroke="none" stroke-width="1" />
<polygon points="467.62,42.70 471.82,46.90 467.62,51.10 463.42,46.90" fill="#2f8a22" stroke="none" stroke-width="1" />
<polygon points="490.29,48.20 494.49,52.40 490.29,56.60 486.09,52.40" fill="#2f8a22" stroke="none" stroke-width="1" />
<polygon points="372.80,5.50 376.80,12.30 368.80,12.30" fill="#e57c30" stroke="none" stroke-width="1" />
<polygon points="375.38,6.20 379.38,13.00 371.38,13.00" fill="#e57c30" stroke="none" stroke-width="1" />
<polygon points="377.44,6.70 381.44,13.50 373.44,13.50" fill="#e57c30" stroke="none" stroke-width="1" />
<polygon points="378.98,7.00 382.98,13.80 374.98,13.80" fill="#e57c30" stroke="none" stroke-width="1" />
<polygon points="384.65,7.90 388.65,14.70 380.65,14.70" fill="#e57c30" stroke="none" stroke-width="1" />
<polygon points="390.32,9.20 394.32,16.00 386.32,16.00" fill="#e57c30" stroke="none" stroke-width="1" />
<polygon points="396.50,10.10 400.50,16.90 392.50,16.90" fill="#e57c30" stroke="none" stroke-width="1" />
<polygon points="405.26,11.90 409.26,18.70 401.26,18.70" fill="#e57c30" stroke="none" stroke-width="1" />
<polygon points="417.12,15.60 421.12,22.40 413.12,22.40" fill="#e57c30" stroke="none" stroke-width="1" />
<polygon points="425.88,17.80 429.88,24.60 421.88,24.60" fill="#e57c30" stroke="none" stroke-width="1" />
<polygon points="443.40,23.00 447.40,29.80 439.40,29.80" fill="#e57c30" stroke="none" stroke-width="1" />
<polygon points="453.19,26.10 457.19,32.90 449.19,32.90" fill="#e57c30" stroke="none" stroke-width="1" />
<polygon points="467.62,30.10 471.62,36.90 463.62,36.90" fill="#e57c30" stroke="none" stroke-width="1" />
<polygon points="490.29,38.40 494.29,45.20 486.29,45.20" fill="#e57c30" stroke="none" stroke-width="1" />
<polygon points="387.00,75.40 391.00,82.20 383.00,82.20" fill="#e57c30" stroke="none" stroke-width="1" />
<polygon points="386.90,88.70 391.10,92.90 386.90,97.10 382.70,92.90" fill="#2f8a22" stroke="none" stroke-width="1" />
<polygon points="387.00,101.00 388.19,103.86 391.28,104.11 388.93,106.13 389.65,109.14 387.00,107.53 384.35,109.14 385.07,106.13 382.72,104.11 385.81,103.86" fill="#3a80d0" stroke="none" stroke-width="1" />
<text x="396.60" y="82.90" font-size="8.4" font-weight="normal" text-anchor="start" fill="#222">a/a<tspan font-size="6" dy="2">0</tspan></text>
<text x="396.60" y="96.00" font-size="8.4" font-weight="normal" text-anchor="start" fill="#222">b/b<tspan font-size="6" dy="2">0</tspan></text>
<text x="396.60" y="109.20" font-size="8.4" font-weight="normal" text-anchor="start" fill="#222">c/c<tspan font-size="6" dy="2">0</tspan></text>
<text x="504.20" y="17.00" font-size="20" font-weight="normal" text-anchor="start" fill="#111">d</text>
<line x1="536.50" y1="7.50" x2="661.50" y2="7.50" stroke="#505050" stroke-width="1.0" stroke-linecap="square"/>
<line x1="536.50" y1="122.50" x2="661.50" y2="122.50" stroke="#505050" stroke-width="1.0" stroke-linecap="square"/>
<line x1="536.50" y1="7.50" x2="536.50" y2="122.50" stroke="#505050" stroke-width="1.0" stroke-linecap="square"/>
<line x1="661.50" y1="7.50" x2="661.50" y2="122.50" stroke="#505050" stroke-width="1.0" stroke-linecap="square"/>
<rect x="533" y="67.2" width="7" height="2.6" fill="#fff"/>
<rect x="658.5" y="67.2" width="7" height="2.6" fill="#fff"/>
<line x1="534.30" y1="68.20" x2="538.70" y2="66.60" stroke="#505050" stroke-width="0.9" />
<line x1="534.30" y1="70.50" x2="538.70" y2="68.90" stroke="#505050" stroke-width="0.9" />
<line x1="659.70" y1="68.20" x2="664.10" y2="66.60" stroke="#505050" stroke-width="0.9" />
<line x1="659.70" y1="70.50" x2="664.10" y2="68.90" stroke="#505050" stroke-width="0.9" />
<line x1="540.00" y1="122.70" x2="540.00" y2="125.50" stroke="#505050" stroke-width="0.9" />
<line x1="569.82" y1="122.70" x2="569.82" y2="125.50" stroke="#505050" stroke-width="0.9" />
<line x1="599.64" y1="122.70" x2="599.64" y2="125.50" stroke="#505050" stroke-width="0.9" />
<line x1="629.46" y1="122.70" x2="629.46" y2="125.50" stroke="#505050" stroke-width="0.9" />
<line x1="659.28" y1="122.70" x2="659.28" y2="125.50" stroke="#505050" stroke-width="0.9" />
<line x1="554.91" y1="122.70" x2="554.91" y2="124.50" stroke="#505050" stroke-width="0.9" />
<line x1="584.73" y1="122.70" x2="584.73" y2="124.50" stroke="#505050" stroke-width="0.9" />
<line x1="614.55" y1="122.70" x2="614.55" y2="124.50" stroke="#505050" stroke-width="0.9" />
<line x1="644.37" y1="122.70" x2="644.37" y2="124.50" stroke="#505050" stroke-width="0.9" />
<text x="540.00" y="132.80" font-size="8.2" font-weight="bold" text-anchor="middle" fill="#1a1a1a" stroke="#1a1a1a" stroke-width="0.18" stroke-linejoin="round">0</text>
<text x="569.82" y="132.80" font-size="8.2" font-weight="bold" text-anchor="middle" fill="#1a1a1a" stroke="#1a1a1a" stroke-width="0.18" stroke-linejoin="round">6</text>
<text x="599.64" y="132.80" font-size="8.2" font-weight="bold" text-anchor="middle" fill="#1a1a1a" stroke="#1a1a1a" stroke-width="0.18" stroke-linejoin="round">12</text>
<text x="629.46" y="132.80" font-size="8.2" font-weight="bold" text-anchor="middle" fill="#1a1a1a" stroke="#1a1a1a" stroke-width="0.18" stroke-linejoin="round">18</text>
<text x="659.28" y="132.80" font-size="8.2" font-weight="bold" text-anchor="middle" fill="#1a1a1a" stroke="#1a1a1a" stroke-width="0.18" stroke-linejoin="round">24</text>
<line x1="536.50" y1="16.00" x2="533.70" y2="16.00" stroke="#505050" stroke-width="0.9" />
<line x1="536.50" y1="33.60" x2="533.70" y2="33.60" stroke="#505050" stroke-width="0.9" />
<line x1="536.50" y1="51.20" x2="533.70" y2="51.20" stroke="#505050" stroke-width="0.9" />
<line x1="536.50" y1="24.80" x2="534.70" y2="24.80" stroke="#505050" stroke-width="0.9" />
<line x1="536.50" y1="42.40" x2="534.70" y2="42.40" stroke="#505050" stroke-width="0.9" />
<line x1="536.50" y1="60.00" x2="534.70" y2="60.00" stroke="#505050" stroke-width="0.9" />
<text x="533.20" y="19.00" font-size="8.2" font-weight="bold" text-anchor="end" fill="#1a1a1a" stroke="#1a1a1a" stroke-width="0.18" stroke-linejoin="round">15.2</text>
<text x="533.20" y="36.60" font-size="8.2" font-weight="bold" text-anchor="end" fill="#1a1a1a" stroke="#1a1a1a" stroke-width="0.18" stroke-linejoin="round">14.8</text>
<text x="533.20" y="54.20" font-size="8.2" font-weight="bold" text-anchor="end" fill="#1a1a1a" stroke="#1a1a1a" stroke-width="0.18" stroke-linejoin="round">14.4</text>
<line x1="536.50" y1="77.10" x2="533.70" y2="77.10" stroke="#505050" stroke-width="0.9" />
<line x1="536.50" y1="107.30" x2="533.70" y2="107.30" stroke="#505050" stroke-width="0.9" />
<line x1="536.50" y1="69.55" x2="534.70" y2="69.55" stroke="#505050" stroke-width="0.9" />
<line x1="536.50" y1="92.20" x2="534.70" y2="92.20" stroke="#505050" stroke-width="0.9" />
<line x1="536.50" y1="122.40" x2="534.70" y2="122.40" stroke="#505050" stroke-width="0.9" />
<text x="533.20" y="80.10" font-size="8.2" font-weight="bold" text-anchor="end" fill="#1a1a1a" stroke="#1a1a1a" stroke-width="0.18" stroke-linejoin="round">7.6</text>
<text x="533.20" y="110.30" font-size="8.2" font-weight="bold" text-anchor="end" fill="#1a1a1a" stroke="#1a1a1a" stroke-width="0.18" stroke-linejoin="round">7.2</text>
<text x="603.60" y="146.30" font-size="9.6" font-weight="bold" text-anchor="middle" fill="#1a1a1a" textLength="69.5" lengthAdjust="spacingAndGlyphs" stroke="#1a1a1a" stroke-width="0.18" stroke-linejoin="round">Pressure (GPa)</text>
<text x="514.30" y="64.40" font-size="9.1" font-weight="bold" text-anchor="middle" fill="#1a1a1a" transform="rotate(-90 514.30 64.40)" stroke="#1a1a1a" stroke-width="0.18" stroke-linejoin="round"><tspan font-style="italic">d</tspan>-Spacing (Å)</text>
<polyline points="540.00,13.00 542.49,21.60 544.47,23.10 545.96,27.10 551.43,31.50 556.90,37.00 562.86,41.00 571.31,43.50 582.74,46.90 591.19,49.00 608.09,52.40 617.53,55.50 631.45,59.20 653.32,64.10" fill="none" stroke="#6ab4ec" stroke-width="0.8"/>
<polyline points="540.00,76.50 542.49,77.70 544.47,79.60 545.96,81.70 551.43,84.80 556.90,90.00 562.86,93.10 571.31,95.60 582.74,100.20 591.19,103.30 608.09,105.80 617.53,108.90 631.45,111.60 653.32,117.80" fill="none" stroke="#f2a06a" stroke-width="0.8"/>
<circle cx="540.00" cy="13.00" r="2.75" fill="#fff" stroke="#3a7cd0" stroke-width="1.1"/><circle cx="540.00" cy="13.00" r="0.55" fill="#3a7cd0"/>
<circle cx="542.49" cy="21.60" r="2.75" fill="#fff" stroke="#3a7cd0" stroke-width="1.1"/><circle cx="542.49" cy="21.60" r="0.55" fill="#3a7cd0"/>
<circle cx="544.47" cy="23.10" r="2.75" fill="#fff" stroke="#3a7cd0" stroke-width="1.1"/><circle cx="544.47" cy="23.10" r="0.55" fill="#3a7cd0"/>
<circle cx="545.96" cy="27.10" r="2.75" fill="#fff" stroke="#3a7cd0" stroke-width="1.1"/><circle cx="545.96" cy="27.10" r="0.55" fill="#3a7cd0"/>
<circle cx="551.43" cy="31.50" r="2.75" fill="#fff" stroke="#3a7cd0" stroke-width="1.1"/><circle cx="551.43" cy="31.50" r="0.55" fill="#3a7cd0"/>
<circle cx="556.90" cy="37.00" r="2.75" fill="#fff" stroke="#3a7cd0" stroke-width="1.1"/><circle cx="556.90" cy="37.00" r="0.55" fill="#3a7cd0"/>
<circle cx="562.86" cy="41.00" r="2.75" fill="#fff" stroke="#3a7cd0" stroke-width="1.1"/><circle cx="562.86" cy="41.00" r="0.55" fill="#3a7cd0"/>
<circle cx="571.31" cy="43.50" r="2.75" fill="#fff" stroke="#3a7cd0" stroke-width="1.1"/><circle cx="571.31" cy="43.50" r="0.55" fill="#3a7cd0"/>
<circle cx="582.74" cy="46.90" r="2.75" fill="#fff" stroke="#3a7cd0" stroke-width="1.1"/><circle cx="582.74" cy="46.90" r="0.55" fill="#3a7cd0"/>
<circle cx="591.19" cy="49.00" r="2.75" fill="#fff" stroke="#3a7cd0" stroke-width="1.1"/><circle cx="591.19" cy="49.00" r="0.55" fill="#3a7cd0"/>
<circle cx="608.09" cy="52.40" r="2.75" fill="#fff" stroke="#3a7cd0" stroke-width="1.1"/><circle cx="608.09" cy="52.40" r="0.55" fill="#3a7cd0"/>
<circle cx="617.53" cy="55.50" r="2.75" fill="#fff" stroke="#3a7cd0" stroke-width="1.1"/><circle cx="617.53" cy="55.50" r="0.55" fill="#3a7cd0"/>
<circle cx="631.45" cy="59.20" r="2.75" fill="#fff" stroke="#3a7cd0" stroke-width="1.1"/><circle cx="631.45" cy="59.20" r="0.55" fill="#3a7cd0"/>
<circle cx="653.32" cy="64.10" r="2.75" fill="#fff" stroke="#3a7cd0" stroke-width="1.1"/><circle cx="653.32" cy="64.10" r="0.55" fill="#3a7cd0"/>
<circle cx="540.00" cy="76.50" r="2.75" fill="#fff" stroke="#e57c30" stroke-width="1.1"/><circle cx="540.00" cy="76.50" r="0.55" fill="#e57c30"/>
<circle cx="542.49" cy="77.70" r="2.75" fill="#fff" stroke="#e57c30" stroke-width="1.1"/><circle cx="542.49" cy="77.70" r="0.55" fill="#e57c30"/>
<circle cx="544.47" cy="79.60" r="2.75" fill="#fff" stroke="#e57c30" stroke-width="1.1"/><circle cx="544.47" cy="79.60" r="0.55" fill="#e57c30"/>
<circle cx="545.96" cy="81.70" r="2.75" fill="#fff" stroke="#e57c30" stroke-width="1.1"/><circle cx="545.96" cy="81.70" r="0.55" fill="#e57c30"/>
<circle cx="551.43" cy="84.80" r="2.75" fill="#fff" stroke="#e57c30" stroke-width="1.1"/><circle cx="551.43" cy="84.80" r="0.55" fill="#e57c30"/>
<circle cx="556.90" cy="90.00" r="2.75" fill="#fff" stroke="#e57c30" stroke-width="1.1"/><circle cx="556.90" cy="90.00" r="0.55" fill="#e57c30"/>
<circle cx="562.86" cy="93.10" r="2.75" fill="#fff" stroke="#e57c30" stroke-width="1.1"/><circle cx="562.86" cy="93.10" r="0.55" fill="#e57c30"/>
<circle cx="571.31" cy="95.60" r="2.75" fill="#fff" stroke="#e57c30" stroke-width="1.1"/><circle cx="571.31" cy="95.60" r="0.55" fill="#e57c30"/>
<circle cx="582.74" cy="100.20" r="2.75" fill="#fff" stroke="#e57c30" stroke-width="1.1"/><circle cx="582.74" cy="100.20" r="0.55" fill="#e57c30"/>
<circle cx="591.19" cy="103.30" r="2.75" fill="#fff" stroke="#e57c30" stroke-width="1.1"/><circle cx="591.19" cy="103.30" r="0.55" fill="#e57c30"/>
<circle cx="608.09" cy="105.80" r="2.75" fill="#fff" stroke="#e57c30" stroke-width="1.1"/><circle cx="608.09" cy="105.80" r="0.55" fill="#e57c30"/>
<circle cx="617.53" cy="108.90" r="2.75" fill="#fff" stroke="#e57c30" stroke-width="1.1"/><circle cx="617.53" cy="108.90" r="0.55" fill="#e57c30"/>
<circle cx="631.45" cy="111.60" r="2.75" fill="#fff" stroke="#e57c30" stroke-width="1.1"/><circle cx="631.45" cy="111.60" r="0.55" fill="#e57c30"/>
<circle cx="653.32" cy="117.80" r="2.75" fill="#fff" stroke="#e57c30" stroke-width="1.1"/><circle cx="653.32" cy="117.80" r="0.55" fill="#e57c30"/>
<text x="613.40" y="34.60" font-size="8.5" font-weight="bold" text-anchor="middle" fill="#3a78cc" textLength="19.2" lengthAdjust="spacingAndGlyphs" stroke="#3a78cc" stroke-width="0.18" stroke-linejoin="round">(020)</text>
<text x="613.40" y="97.40" font-size="8.5" font-weight="bold" text-anchor="middle" fill="#e0702a" textLength="19.2" lengthAdjust="spacingAndGlyphs" stroke="#e0702a" stroke-width="0.18" stroke-linejoin="round">(001)</text>
<text x="161.00" y="166.60" font-size="21.5" font-weight="normal" text-anchor="start" fill="#111">e</text>
<line x1="196.50" y1="152.50" x2="320.50" y2="152.50" stroke="#505050" stroke-width="1.0" stroke-linecap="square"/>
<line x1="196.50" y1="266.50" x2="320.50" y2="266.50" stroke="#505050" stroke-width="1.0" stroke-linecap="square"/>
<line x1="196.50" y1="152.50" x2="196.50" y2="266.50" stroke="#505050" stroke-width="1.0" stroke-linecap="square"/>
<line x1="320.50" y1="152.50" x2="320.50" y2="266.50" stroke="#505050" stroke-width="1.0" stroke-linecap="square"/>
<line x1="202.20" y1="266.20" x2="202.20" y2="269.00" stroke="#505050" stroke-width="0.9" />
<line x1="231.18" y1="266.20" x2="231.18" y2="269.00" stroke="#505050" stroke-width="0.9" />
<line x1="260.16" y1="266.20" x2="260.16" y2="269.00" stroke="#505050" stroke-width="0.9" />
<line x1="289.14" y1="266.20" x2="289.14" y2="269.00" stroke="#505050" stroke-width="0.9" />
<line x1="318.12" y1="266.20" x2="318.12" y2="269.00" stroke="#505050" stroke-width="0.9" />
<line x1="216.69" y1="266.20" x2="216.69" y2="268.00" stroke="#505050" stroke-width="0.9" />
<line x1="245.67" y1="266.20" x2="245.67" y2="268.00" stroke="#505050" stroke-width="0.9" />
<line x1="274.65" y1="266.20" x2="274.65" y2="268.00" stroke="#505050" stroke-width="0.9" />
<line x1="303.63" y1="266.20" x2="303.63" y2="268.00" stroke="#505050" stroke-width="0.9" />
<text x="202.20" y="276.60" font-size="8.5" font-weight="bold" text-anchor="middle" fill="#1a1a1a" stroke="#1a1a1a" stroke-width="0.18" stroke-linejoin="round">0</text>
<text x="231.18" y="276.60" font-size="8.5" font-weight="bold" text-anchor="middle" fill="#1a1a1a" stroke="#1a1a1a" stroke-width="0.18" stroke-linejoin="round">6</text>
<text x="260.16" y="276.60" font-size="8.5" font-weight="bold" text-anchor="middle" fill="#1a1a1a" stroke="#1a1a1a" stroke-width="0.18" stroke-linejoin="round">12</text>
<text x="289.14" y="276.60" font-size="8.5" font-weight="bold" text-anchor="middle" fill="#1a1a1a" stroke="#1a1a1a" stroke-width="0.18" stroke-linejoin="round">18</text>
<text x="318.12" y="276.60" font-size="8.5" font-weight="bold" text-anchor="middle" fill="#1a1a1a" stroke="#1a1a1a" stroke-width="0.18" stroke-linejoin="round">24</text>
<line x1="196.60" y1="169.50" x2="193.80" y2="169.50" stroke="#505050" stroke-width="0.9" />
<line x1="196.60" y1="192.48" x2="193.80" y2="192.48" stroke="#505050" stroke-width="0.9" />
<line x1="196.60" y1="215.46" x2="193.80" y2="215.46" stroke="#505050" stroke-width="0.9" />
<line x1="196.60" y1="238.44" x2="193.80" y2="238.44" stroke="#505050" stroke-width="0.9" />
<line x1="196.60" y1="261.42" x2="193.80" y2="261.42" stroke="#505050" stroke-width="0.9" />
<line x1="196.60" y1="158.01" x2="194.80" y2="158.01" stroke="#505050" stroke-width="0.9" />
<line x1="196.60" y1="180.99" x2="194.80" y2="180.99" stroke="#505050" stroke-width="0.9" />
<line x1="196.60" y1="203.97" x2="194.80" y2="203.97" stroke="#505050" stroke-width="0.9" />
<line x1="196.60" y1="226.95" x2="194.80" y2="226.95" stroke="#505050" stroke-width="0.9" />
<line x1="196.60" y1="249.93" x2="194.80" y2="249.93" stroke="#505050" stroke-width="0.9" />
<text x="193.20" y="172.50" font-size="8.5" font-weight="bold" text-anchor="end" fill="#1a1a1a" stroke="#1a1a1a" stroke-width="0.18" stroke-linejoin="round">4.0</text>
<text x="193.20" y="195.48" font-size="8.5" font-weight="bold" text-anchor="end" fill="#1a1a1a" stroke="#1a1a1a" stroke-width="0.18" stroke-linejoin="round">3.8</text>
<text x="193.20" y="218.46" font-size="8.5" font-weight="bold" text-anchor="end" fill="#1a1a1a" stroke="#1a1a1a" stroke-width="0.18" stroke-linejoin="round">3.6</text>
<text x="193.20" y="241.44" font-size="8.5" font-weight="bold" text-anchor="end" fill="#1a1a1a" stroke="#1a1a1a" stroke-width="0.18" stroke-linejoin="round">3.4</text>
<text x="193.20" y="264.42" font-size="8.5" font-weight="bold" text-anchor="end" fill="#1a1a1a" stroke="#1a1a1a" stroke-width="0.18" stroke-linejoin="round">3.2</text>
<text x="262.60" y="288.70" font-size="9.6" font-weight="bold" text-anchor="middle" fill="#1a1a1a" textLength="68.5" lengthAdjust="spacingAndGlyphs" stroke="#1a1a1a" stroke-width="0.18" stroke-linejoin="round">Pressure (GPa)</text>
<text x="171.80" y="208.20" font-size="10.2" font-weight="bold" text-anchor="middle" fill="#1a1a1a" transform="rotate(-90 171.80 208.20)" stroke="#1a1a1a" stroke-width="0.18" stroke-linejoin="round">Distance (Å)</text>
<polyline points="202.20,162.20 204.61,165.90 206.55,167.70 208.00,169.50 213.31,175.00 218.62,180.40 224.42,185.10 232.63,194.20 243.74,203.30 251.95,212.40 268.37,222.90 277.55,230.20 291.07,239.60 312.32,253.80" fill="none" stroke="#6ab4ec" stroke-width="0.8"/>
<circle cx="202.20" cy="162.20" r="3.45" fill="url(#sb)"/>
<circle cx="204.61" cy="165.90" r="3.45" fill="url(#sb)"/>
<circle cx="206.55" cy="167.70" r="3.45" fill="url(#sb)"/>
<circle cx="208.00" cy="169.50" r="3.45" fill="url(#sb)"/>
<circle cx="213.31" cy="175.00" r="3.45" fill="url(#sb)"/>
<circle cx="218.62" cy="180.40" r="3.45" fill="url(#sb)"/>
<circle cx="224.42" cy="185.10" r="3.45" fill="url(#sb)"/>
<circle cx="232.63" cy="194.20" r="3.45" fill="url(#sb)"/>
<circle cx="243.74" cy="203.30" r="3.45" fill="url(#sb)"/>
<circle cx="251.95" cy="212.40" r="3.45" fill="url(#sb)"/>
<circle cx="268.37" cy="222.90" r="3.45" fill="url(#sb)"/>
<circle cx="277.55" cy="230.20" r="3.45" fill="url(#sb)"/>
<circle cx="291.07" cy="239.60" r="3.45" fill="url(#sb)"/>
<circle cx="312.32" cy="253.80" r="3.45" fill="url(#sb)"/>
<text x="282.50" y="184.90" font-size="9.8" font-weight="bold" text-anchor="middle" fill="#3a7ccc" textLength="47" lengthAdjust="spacingAndGlyphs" stroke="#3a7ccc" stroke-width="0.18" stroke-linejoin="round">π-hole···π</text>
<text x="281.80" y="196.80" font-size="9.8" font-weight="bold" text-anchor="middle" fill="#3a7ccc" textLength="33.2" lengthAdjust="spacingAndGlyphs" stroke="#3a7ccc" stroke-width="0.18" stroke-linejoin="round">(PPNO)</text>
<text x="336.00" y="166.30" font-size="20" font-weight="normal" text-anchor="start" fill="#111">f</text>
<line x1="373.50" y1="152.50" x2="497.50" y2="152.50" stroke="#505050" stroke-width="1.0" stroke-linecap="square"/>
<line x1="373.50" y1="265.50" x2="497.50" y2="265.50" stroke="#505050" stroke-width="1.0" stroke-linecap="square"/>
<line x1="373.50" y1="152.50" x2="373.50" y2="265.50" stroke="#505050" stroke-width="1.0" stroke-linecap="square"/>
<line x1="497.50" y1="152.50" x2="497.50" y2="265.50" stroke="#505050" stroke-width="1.0" stroke-linecap="square"/>
<line x1="378.20" y1="265.20" x2="378.20" y2="268.00" stroke="#505050" stroke-width="0.9" />
<line x1="407.54" y1="265.20" x2="407.54" y2="268.00" stroke="#505050" stroke-width="0.9" />
<line x1="436.88" y1="265.20" x2="436.88" y2="268.00" stroke="#505050" stroke-width="0.9" />
<line x1="466.22" y1="265.20" x2="466.22" y2="268.00" stroke="#505050" stroke-width="0.9" />
<line x1="495.56" y1="265.20" x2="495.56" y2="268.00" stroke="#505050" stroke-width="0.9" />
<line x1="392.87" y1="265.20" x2="392.87" y2="267.00" stroke="#505050" stroke-width="0.9" />
<line x1="422.21" y1="265.20" x2="422.21" y2="267.00" stroke="#505050" stroke-width="0.9" />
<line x1="451.55" y1="265.20" x2="451.55" y2="267.00" stroke="#505050" stroke-width="0.9" />
<line x1="480.89" y1="265.20" x2="480.89" y2="267.00" stroke="#505050" stroke-width="0.9" />
<text x="378.20" y="276.00" font-size="8.5" font-weight="bold" text-anchor="middle" fill="#1a1a1a" stroke="#1a1a1a" stroke-width="0.18" stroke-linejoin="round">0</text>
<text x="407.54" y="276.00" font-size="8.5" font-weight="bold" text-anchor="middle" fill="#1a1a1a" stroke="#1a1a1a" stroke-width="0.18" stroke-linejoin="round">6</text>
<text x="436.88" y="276.00" font-size="8.5" font-weight="bold" text-anchor="middle" fill="#1a1a1a" stroke="#1a1a1a" stroke-width="0.18" stroke-linejoin="round">12</text>
<text x="466.22" y="276.00" font-size="8.5" font-weight="bold" text-anchor="middle" fill="#1a1a1a" stroke="#1a1a1a" stroke-width="0.18" stroke-linejoin="round">18</text>
<text x="495.56" y="276.00" font-size="8.5" font-weight="bold" text-anchor="middle" fill="#1a1a1a" stroke="#1a1a1a" stroke-width="0.18" stroke-linejoin="round">24</text>
<line x1="373.30" y1="155.00" x2="370.50" y2="155.00" stroke="#505050" stroke-width="0.9" />
<line x1="373.30" y1="176.20" x2="370.50" y2="176.20" stroke="#505050" stroke-width="0.9" />
<line x1="373.30" y1="197.40" x2="370.50" y2="197.40" stroke="#505050" stroke-width="0.9" />
<line x1="373.30" y1="218.60" x2="370.50" y2="218.60" stroke="#505050" stroke-width="0.9" />
<line x1="373.30" y1="239.80" x2="370.50" y2="239.80" stroke="#505050" stroke-width="0.9" />
<line x1="373.30" y1="261.00" x2="370.50" y2="261.00" stroke="#505050" stroke-width="0.9" />
<line x1="373.30" y1="165.60" x2="371.50" y2="165.60" stroke="#505050" stroke-width="0.9" />
<line x1="373.30" y1="186.80" x2="371.50" y2="186.80" stroke="#505050" stroke-width="0.9" />
<line x1="373.30" y1="208.00" x2="371.50" y2="208.00" stroke="#505050" stroke-width="0.9" />
<line x1="373.30" y1="229.20" x2="371.50" y2="229.20" stroke="#505050" stroke-width="0.9" />
<line x1="373.30" y1="250.40" x2="371.50" y2="250.40" stroke="#505050" stroke-width="0.9" />
<text x="370.00" y="158.00" font-size="8.5" font-weight="bold" text-anchor="end" fill="#1a1a1a" stroke="#1a1a1a" stroke-width="0.18" stroke-linejoin="round">2.8</text>
<text x="370.00" y="179.20" font-size="8.5" font-weight="bold" text-anchor="end" fill="#1a1a1a" stroke="#1a1a1a" stroke-width="0.18" stroke-linejoin="round">2.6</text>
<text x="370.00" y="200.40" font-size="8.5" font-weight="bold" text-anchor="end" fill="#1a1a1a" stroke="#1a1a1a" stroke-width="0.18" stroke-linejoin="round">2.4</text>
<text x="370.00" y="221.60" font-size="8.5" font-weight="bold" text-anchor="end" fill="#1a1a1a" stroke="#1a1a1a" stroke-width="0.18" stroke-linejoin="round">2.2</text>
<text x="370.00" y="242.80" font-size="8.5" font-weight="bold" text-anchor="end" fill="#1a1a1a" stroke="#1a1a1a" stroke-width="0.18" stroke-linejoin="round">2.0</text>
<text x="370.00" y="264.00" font-size="8.5" font-weight="bold" text-anchor="end" fill="#1a1a1a" stroke="#1a1a1a" stroke-width="0.18" stroke-linejoin="round">1.8</text>
<text x="439.00" y="288.70" font-size="9.6" font-weight="bold" text-anchor="middle" fill="#1a1a1a" textLength="68.5" lengthAdjust="spacingAndGlyphs" stroke="#1a1a1a" stroke-width="0.18" stroke-linejoin="round">Pressure (GPa)</text>
<text x="344.20" y="208.40" font-size="10.2" font-weight="bold" text-anchor="middle" fill="#1a1a1a" transform="rotate(-90 344.20 208.40)" stroke="#1a1a1a" stroke-width="0.18" stroke-linejoin="round">Distance (Å)</text>
<polyline points="378.20,165.90 380.64,170.60 382.60,173.10 384.07,174.90 389.45,179.70 394.83,185.80 400.69,190.20 409.01,197.50 420.25,205.10 428.57,211.60 445.19,222.90 454.48,229.40 468.18,236.70 489.69,245.70" fill="none" stroke="#5cc04a" stroke-width="0.8"/>
<circle cx="378.20" cy="165.90" r="3.45" fill="url(#sg)"/>
<circle cx="380.64" cy="170.60" r="3.45" fill="url(#sg)"/>
<circle cx="382.60" cy="173.10" r="3.45" fill="url(#sg)"/>
<circle cx="384.07" cy="174.90" r="3.45" fill="url(#sg)"/>
<circle cx="389.45" cy="179.70" r="3.45" fill="url(#sg)"/>
<circle cx="394.83" cy="185.80" r="3.45" fill="url(#sg)"/>
<circle cx="400.69" cy="190.20" r="3.45" fill="url(#sg)"/>
<circle cx="409.01" cy="197.50" r="3.45" fill="url(#sg)"/>
<circle cx="420.25" cy="205.10" r="3.45" fill="url(#sg)"/>
<circle cx="428.57" cy="211.60" r="3.45" fill="url(#sg)"/>
<circle cx="445.19" cy="222.90" r="3.45" fill="url(#sg)"/>
<circle cx="454.48" cy="229.40" r="3.45" fill="url(#sg)"/>
<circle cx="468.18" cy="236.70" r="3.45" fill="url(#sg)"/>
<circle cx="489.69" cy="245.70" r="3.45" fill="url(#sg)"/>
<text x="454.80" y="183.60" font-size="9.6" font-weight="bold" text-anchor="middle" fill="#3a9228" stroke="#3a9228" stroke-width="0.18" stroke-linejoin="round">halogen bond</text>
<text x="454.80" y="196.40" font-size="9.6" font-weight="bold" text-anchor="middle" fill="#3a9228" stroke="#3a9228" stroke-width="0.18" stroke-linejoin="round">(C-I···O-N<tspan font-size="6" dy="-3.5">+</tspan><tspan dy="3.5">)</tspan></text>
<text x="509.50" y="167.00" font-size="20" font-weight="normal" text-anchor="start" fill="#111">g</text>
<line x1="537.50" y1="155.50" x2="658.50" y2="155.50" stroke="#505050" stroke-width="1.0" stroke-linecap="square"/>
<line x1="537.50" y1="265.50" x2="658.50" y2="265.50" stroke="#505050" stroke-width="1.0" stroke-linecap="square"/>
<line x1="537.50" y1="155.50" x2="537.50" y2="265.50" stroke="#e07a30" stroke-width="1.0" stroke-linecap="square"/>
<line x1="658.50" y1="155.50" x2="658.50" y2="265.50" stroke="#3d9a2a" stroke-width="1.0" stroke-linecap="square"/>
<line x1="542.10" y1="265.00" x2="542.10" y2="267.80" stroke="#505050" stroke-width="0.9" />
<line x1="570.54" y1="265.00" x2="570.54" y2="267.80" stroke="#505050" stroke-width="0.9" />
<line x1="598.98" y1="265.00" x2="598.98" y2="267.80" stroke="#505050" stroke-width="0.9" />
<line x1="627.42" y1="265.00" x2="627.42" y2="267.80" stroke="#505050" stroke-width="0.9" />
<line x1="655.86" y1="265.00" x2="655.86" y2="267.80" stroke="#505050" stroke-width="0.9" />
<line x1="556.32" y1="265.00" x2="556.32" y2="266.80" stroke="#505050" stroke-width="0.9" />
<line x1="584.76" y1="265.00" x2="584.76" y2="266.80" stroke="#505050" stroke-width="0.9" />
<line x1="613.20" y1="265.00" x2="613.20" y2="266.80" stroke="#505050" stroke-width="0.9" />
<line x1="641.64" y1="265.00" x2="641.64" y2="266.80" stroke="#505050" stroke-width="0.9" />
<text x="542.10" y="275.60" font-size="8.5" font-weight="bold" text-anchor="middle" fill="#1a1a1a" stroke="#1a1a1a" stroke-width="0.18" stroke-linejoin="round">0</text>
<text x="570.54" y="275.60" font-size="8.5" font-weight="bold" text-anchor="middle" fill="#1a1a1a" stroke="#1a1a1a" stroke-width="0.18" stroke-linejoin="round">6</text>
<text x="598.98" y="275.60" font-size="8.5" font-weight="bold" text-anchor="middle" fill="#1a1a1a" stroke="#1a1a1a" stroke-width="0.18" stroke-linejoin="round">12</text>
<text x="627.42" y="275.60" font-size="8.5" font-weight="bold" text-anchor="middle" fill="#1a1a1a" stroke="#1a1a1a" stroke-width="0.18" stroke-linejoin="round">18</text>
<text x="655.86" y="275.60" font-size="8.5" font-weight="bold" text-anchor="middle" fill="#1a1a1a" stroke="#1a1a1a" stroke-width="0.18" stroke-linejoin="round">24</text>
<line x1="537.40" y1="169.50" x2="534.60" y2="169.50" stroke="#e07a30" stroke-width="0.9" />
<line x1="537.40" y1="192.40" x2="534.60" y2="192.40" stroke="#e07a30" stroke-width="0.9" />
<line x1="537.40" y1="215.30" x2="534.60" y2="215.30" stroke="#e07a30" stroke-width="0.9" />
<line x1="537.40" y1="238.20" x2="534.60" y2="238.20" stroke="#e07a30" stroke-width="0.9" />
<line x1="537.40" y1="261.10" x2="534.60" y2="261.10" stroke="#e07a30" stroke-width="0.9" />
<line x1="537.40" y1="158.05" x2="535.60" y2="158.05" stroke="#e07a30" stroke-width="0.9" />
<line x1="537.40" y1="180.95" x2="535.60" y2="180.95" stroke="#e07a30" stroke-width="0.9" />
<line x1="537.40" y1="203.85" x2="535.60" y2="203.85" stroke="#e07a30" stroke-width="0.9" />
<line x1="537.40" y1="226.75" x2="535.60" y2="226.75" stroke="#e07a30" stroke-width="0.9" />
<line x1="537.40" y1="249.65" x2="535.60" y2="249.65" stroke="#e07a30" stroke-width="0.9" />
<text x="535.00" y="172.50" font-size="8.5" font-weight="bold" text-anchor="end" fill="#e07a30" stroke="#e07a30" stroke-width="0.18" stroke-linejoin="round">3.8</text>
<text x="535.00" y="195.40" font-size="8.5" font-weight="bold" text-anchor="end" fill="#e07a30" stroke="#e07a30" stroke-width="0.18" stroke-linejoin="round">3.6</text>
<text x="535.00" y="218.30" font-size="8.5" font-weight="bold" text-anchor="end" fill="#e07a30" stroke="#e07a30" stroke-width="0.18" stroke-linejoin="round">3.4</text>
<text x="535.00" y="241.20" font-size="8.5" font-weight="bold" text-anchor="end" fill="#e07a30" stroke="#e07a30" stroke-width="0.18" stroke-linejoin="round">3.2</text>
<text x="535.00" y="264.10" font-size="8.5" font-weight="bold" text-anchor="end" fill="#e07a30" stroke="#e07a30" stroke-width="0.18" stroke-linejoin="round">3.0</text>
<line x1="658.70" y1="162.30" x2="661.50" y2="162.30" stroke="#3d9a2a" stroke-width="0.9" />
<line x1="658.70" y1="180.98" x2="661.50" y2="180.98" stroke="#3d9a2a" stroke-width="0.9" />
<line x1="658.70" y1="199.66" x2="661.50" y2="199.66" stroke="#3d9a2a" stroke-width="0.9" />
<line x1="658.70" y1="218.34" x2="661.50" y2="218.34" stroke="#3d9a2a" stroke-width="0.9" />
<line x1="658.70" y1="237.02" x2="661.50" y2="237.02" stroke="#3d9a2a" stroke-width="0.9" />
<line x1="658.70" y1="255.70" x2="661.50" y2="255.70" stroke="#3d9a2a" stroke-width="0.9" />
<line x1="658.70" y1="171.64" x2="660.50" y2="171.64" stroke="#3d9a2a" stroke-width="0.9" />
<line x1="658.70" y1="190.32" x2="660.50" y2="190.32" stroke="#3d9a2a" stroke-width="0.9" />
<line x1="658.70" y1="209.00" x2="660.50" y2="209.00" stroke="#3d9a2a" stroke-width="0.9" />
<line x1="658.70" y1="227.68" x2="660.50" y2="227.68" stroke="#3d9a2a" stroke-width="0.9" />
<line x1="658.70" y1="246.36" x2="660.50" y2="246.36" stroke="#3d9a2a" stroke-width="0.9" />
<text x="663.20" y="165.30" font-size="8.5" font-weight="bold" text-anchor="start" fill="#3d9a2a" stroke="#3d9a2a" stroke-width="0.18" stroke-linejoin="round">69</text>
<text x="663.20" y="183.98" font-size="8.5" font-weight="bold" text-anchor="start" fill="#3d9a2a" stroke="#3d9a2a" stroke-width="0.18" stroke-linejoin="round">68</text>
<text x="663.20" y="202.66" font-size="8.5" font-weight="bold" text-anchor="start" fill="#3d9a2a" stroke="#3d9a2a" stroke-width="0.18" stroke-linejoin="round">67</text>
<text x="663.20" y="221.34" font-size="8.5" font-weight="bold" text-anchor="start" fill="#3d9a2a" stroke="#3d9a2a" stroke-width="0.18" stroke-linejoin="round">66</text>
<text x="663.20" y="240.02" font-size="8.5" font-weight="bold" text-anchor="start" fill="#3d9a2a" stroke="#3d9a2a" stroke-width="0.18" stroke-linejoin="round">65</text>
<text x="663.20" y="258.70" font-size="8.5" font-weight="bold" text-anchor="start" fill="#3d9a2a" stroke="#3d9a2a" stroke-width="0.18" stroke-linejoin="round">64</text>
<text x="604.70" y="288.90" font-size="9.6" font-weight="bold" text-anchor="middle" fill="#1a1a1a" textLength="68.7" lengthAdjust="spacingAndGlyphs" stroke="#1a1a1a" stroke-width="0.18" stroke-linejoin="round">Pressure (GPa)</text>
<text x="517.40" y="208.90" font-size="9.3" font-weight="bold" text-anchor="middle" fill="#e07a30" transform="rotate(-90 517.40 208.90)" stroke="#e07a30" stroke-width="0.18" stroke-linejoin="round">Distance (Å)</text>
<text x="676.00" y="211.30" font-size="9.8" font-weight="bold" text-anchor="middle" fill="#3d9a2a" transform="rotate(90 676.00 211.30)" stroke="#3d9a2a" stroke-width="0.18" stroke-linejoin="round">Overlap (%)</text>
<polyline points="542.10,161.20 544.47,164.10 546.37,165.90 547.79,167.00 553.00,172.10 558.22,178.60 563.90,183.30 571.96,192.40 582.86,201.20 590.92,211.30 607.04,222.20 616.04,228.40 629.32,238.60 650.17,252.40" fill="none" stroke="#f2a06a" stroke-width="0.8"/>
<polyline points="542.10,251.30 544.47,251.30 546.37,250.60 547.79,248.80 553.00,244.10 558.22,239.70 563.90,233.10 571.96,227.00 582.86,215.70 590.92,208.80 607.04,196.80 616.04,188.80 629.32,180.40 650.17,170.30" fill="none" stroke="#7fdc6a" stroke-width="0.8"/>
<circle cx="542.10" cy="161.20" r="3.45" fill="url(#so)"/>
<circle cx="544.47" cy="164.10" r="3.45" fill="url(#so)"/>
<circle cx="546.37" cy="165.90" r="3.45" fill="url(#so)"/>
<circle cx="547.79" cy="167.00" r="3.45" fill="url(#so)"/>
<circle cx="553.00" cy="172.10" r="3.45" fill="url(#so)"/>
<circle cx="558.22" cy="178.60" r="3.45" fill="url(#so)"/>
<circle cx="563.90" cy="183.30" r="3.45" fill="url(#so)"/>
<circle cx="571.96" cy="192.40" r="3.45" fill="url(#so)"/>
<circle cx="582.86" cy="201.20" r="3.45" fill="url(#so)"/>
<circle cx="590.92" cy="211.30" r="3.45" fill="url(#so)"/>
<circle cx="607.04" cy="222.20" r="3.45" fill="url(#so)"/>
<circle cx="616.04" cy="228.40" r="3.45" fill="url(#so)"/>
<circle cx="629.32" cy="238.60" r="3.45" fill="url(#so)"/>
<circle cx="650.17" cy="252.40" r="3.45" fill="url(#so)"/>
<circle cx="542.10" cy="251.30" r="3.45" fill="url(#sg)"/>
<circle cx="544.47" cy="251.30" r="3.45" fill="url(#sg)"/>
<circle cx="546.37" cy="250.60" r="3.45" fill="url(#sg)"/>
<circle cx="547.79" cy="248.80" r="3.45" fill="url(#sg)"/>
<circle cx="553.00" cy="244.10" r="3.45" fill="url(#sg)"/>
<circle cx="558.22" cy="239.70" r="3.45" fill="url(#sg)"/>
<circle cx="563.90" cy="233.10" r="3.45" fill="url(#sg)"/>
<circle cx="571.96" cy="227.00" r="3.45" fill="url(#sg)"/>
<circle cx="582.86" cy="215.70" r="3.45" fill="url(#sg)"/>
<circle cx="590.92" cy="208.80" r="3.45" fill="url(#sg)"/>
<circle cx="607.04" cy="196.80" r="3.45" fill="url(#sg)"/>
<circle cx="616.04" cy="188.80" r="3.45" fill="url(#sg)"/>
<circle cx="629.32" cy="180.40" r="3.45" fill="url(#sg)"/>
<circle cx="650.17" cy="170.30" r="3.45" fill="url(#sg)"/>
<text x="562.20" y="170.10" font-size="8.8" font-weight="bold" text-anchor="start" fill="#e07a30" textLength="71.6" lengthAdjust="spacingAndGlyphs" stroke="#e07a30" stroke-width="0.18" stroke-linejoin="round">π-π stacking (AD)</text>
<text x="569.00" y="250.90" font-size="9.6" font-weight="bold" text-anchor="start" fill="#3d9a2a" textLength="56.4" lengthAdjust="spacingAndGlyphs" stroke="#3d9a2a" stroke-width="0.18" stroke-linejoin="round">Overlaps (AD)</text>
<text x="4.50" y="317.60" font-size="20" font-weight="normal" text-anchor="start" fill="#111">h</text>
<polygon points="66,324.6 137.8,299.8 137.8,450.5 70,428.6" fill="url(#wedge)"/>
<ellipse cx="70.55" cy="376.8" rx="57.05" ry="52.2" fill="#fff" stroke="#1a1a1a" stroke-width="0.9"/>
<polygon points="22.30,372.90 64.60,339.30 104.80,340.00 64.60,374.30" fill="#f6d6b7" stroke="none" stroke-width="1" />
<polygon points="35.80,408.70 77.40,375.10 118.30,376.60 78.20,409.40" fill="#92d6aa" stroke="none" stroke-width="1" />
<polygon points="64.34,349.36 65.97,346.60 69.93,346.05 72.26,348.24 70.63,351.00 66.67,351.55" fill="none" stroke="#4a90e0" stroke-width="0.8" />
<polygon points="59.94,354.46 61.57,351.70 65.53,351.15 67.86,353.34 66.23,356.10 62.27,356.65" fill="none" stroke="#4a90e0" stroke-width="0.8" />
<polygon points="55.54,358.86 57.17,356.10 61.13,355.55 63.46,357.74 61.83,360.50 57.87,361.05" fill="none" stroke="#4a90e0" stroke-width="0.8" />
<line x1="51.27" y1="353.22" x2="48.83" y2="356.78" stroke="#888" stroke-width="0.6" />
<polygon points="49.74,351.56 51.37,348.80 55.33,348.25 57.66,350.44 56.03,353.20 52.07,353.75" fill="none" stroke="#7a7a7a" stroke-width="0.55" />
<polygon points="42.44,359.56 44.07,356.80 48.03,356.25 50.36,358.44 48.73,361.20 44.77,361.75" fill="none" stroke="#7a7a7a" stroke-width="0.55" />
<line x1="42.60" y1="363.00" x2="41.27" y2="364.40" stroke="#e8a060" stroke-width="0.9" />
<circle cx="42.60" cy="363.00" r="0.8" fill="#7a6af0"/>
<line x1="74.20" y1="358.89" x2="76.90" y2="354.71" stroke="#888" stroke-width="0.6" />
<polygon points="67.94,361.76 69.57,359.00 73.53,358.45 75.86,360.64 74.23,363.40 70.27,363.95" fill="none" stroke="#7a7a7a" stroke-width="0.55" />
<polygon points="75.24,352.96 76.87,350.20 80.83,349.65 83.16,351.84 81.53,354.60 77.57,355.15" fill="none" stroke="#7a7a7a" stroke-width="0.55" />
<line x1="82.20" y1="347.80" x2="83.25" y2="346.19" stroke="#e8a060" stroke-width="0.9" />
<circle cx="82.20" cy="347.80" r="0.8" fill="#7a6af0"/>
<polygon points="78.64,385.86 80.27,383.10 84.23,382.55 86.56,384.74 84.93,387.50 80.97,388.05" fill="none" stroke="#4a90e0" stroke-width="0.8" />
<polygon points="74.24,390.26 75.87,387.50 79.83,386.95 82.16,389.14 80.53,391.90 76.57,392.45" fill="none" stroke="#4a90e0" stroke-width="0.8" />
<polygon points="70.54,394.66 72.17,391.90 76.13,391.35 78.46,393.54 76.83,396.30 72.87,396.85" fill="none" stroke="#4a90e0" stroke-width="0.8" />
<line x1="65.71" y1="386.91" x2="63.69" y2="390.29" stroke="#888" stroke-width="0.6" />
<polygon points="64.04,385.16 65.67,382.40 69.63,381.85 71.96,384.04 70.33,386.80 66.37,387.35" fill="none" stroke="#7a7a7a" stroke-width="0.55" />
<polygon points="57.44,393.16 59.07,390.40 63.03,389.85 65.36,392.04 63.73,394.80 59.77,395.35" fill="none" stroke="#7a7a7a" stroke-width="0.55" />
<line x1="58.00" y1="396.50" x2="56.81" y2="397.87" stroke="#e8a060" stroke-width="0.9" />
<circle cx="58.00" cy="396.50" r="0.8" fill="#7a6af0"/>
<line x1="86.30" y1="397.69" x2="89.00" y2="393.51" stroke="#888" stroke-width="0.6" />
<polygon points="80.04,400.56 81.67,397.80 85.63,397.25 87.96,399.44 86.33,402.20 82.37,402.75" fill="none" stroke="#7a7a7a" stroke-width="0.55" />
<polygon points="87.34,391.76 88.97,389.00 92.93,388.45 95.26,390.64 93.63,393.40 89.67,393.95" fill="none" stroke="#7a7a7a" stroke-width="0.55" />
<line x1="94.50" y1="386.80" x2="95.62" y2="385.26" stroke="#e8a060" stroke-width="0.9" />
<circle cx="94.50" cy="386.80" r="0.8" fill="#7a6af0"/>
<line x1="67.00" y1="341.20" x2="71.00" y2="338.40" stroke="#4a4a4a" stroke-width="0.8" />
<circle cx="66.80" cy="341.30" r="0.75" fill="#a040e0"/><circle cx="71.20" cy="338.30" r="0.75" fill="#a040e0"/>
<line x1="78.70" y1="342.90" x2="82.70" y2="340.10" stroke="#4a4a4a" stroke-width="0.8" />
<circle cx="78.50" cy="343.00" r="0.75" fill="#a040e0"/><circle cx="82.90" cy="340.00" r="0.75" fill="#a040e0"/>
<line x1="42.20" y1="370.60" x2="46.20" y2="367.80" stroke="#4a4a4a" stroke-width="0.8" />
<circle cx="42.00" cy="370.70" r="0.75" fill="#a040e0"/><circle cx="46.40" cy="367.70" r="0.75" fill="#a040e0"/>
<line x1="55.30" y1="372.10" x2="59.30" y2="369.30" stroke="#4a4a4a" stroke-width="0.8" />
<circle cx="55.10" cy="372.20" r="0.75" fill="#a040e0"/><circle cx="59.50" cy="369.20" r="0.75" fill="#a040e0"/>
<line x1="82.00" y1="378.20" x2="86.00" y2="375.40" stroke="#4a4a4a" stroke-width="0.8" />
<circle cx="81.80" cy="378.30" r="0.75" fill="#a040e0"/><circle cx="86.20" cy="375.30" r="0.75" fill="#a040e0"/>
<line x1="93.00" y1="380.20" x2="97.00" y2="377.40" stroke="#4a4a4a" stroke-width="0.8" />
<circle cx="92.80" cy="380.30" r="0.75" fill="#a040e0"/><circle cx="97.20" cy="377.30" r="0.75" fill="#a040e0"/>
<line x1="55.70" y1="406.40" x2="59.70" y2="403.60" stroke="#4a4a4a" stroke-width="0.8" />
<circle cx="55.50" cy="406.50" r="0.75" fill="#a040e0"/><circle cx="59.90" cy="403.50" r="0.75" fill="#a040e0"/>
<line x1="67.40" y1="409.40" x2="71.40" y2="406.60" stroke="#4a4a4a" stroke-width="0.8" />
<circle cx="67.20" cy="409.50" r="0.75" fill="#a040e0"/><circle cx="71.60" cy="406.50" r="0.75" fill="#a040e0"/>
<text x="88.50" y="365.60" font-size="9.2" font-weight="bold" text-anchor="middle" fill="#1a1a1a" transform="rotate(-44 88.50 365.60)" stroke="#1a1a1a" stroke-width="0.18" stroke-linejoin="round">(001)</text>
<text x="50.30" y="392.30" font-size="9.2" font-weight="bold" text-anchor="middle" fill="#1a1a1a" transform="rotate(-44 50.30 392.30)" stroke="#1a1a1a" stroke-width="0.18" stroke-linejoin="round">(001)</text>
<line x1="48.60" y1="332.80" x2="48.60" y2="342.50" stroke="#111" stroke-width="1.0" />
<polygon points="46.60,340.00 50.60,340.00 48.60,343.90" fill="#111" stroke="none" stroke-width="1" />
<line x1="99.80" y1="409.60" x2="99.80" y2="400.50" stroke="#111" stroke-width="1.0" />
<polygon points="97.80,402.20 101.80,402.20 99.80,398.40" fill="#111" stroke="none" stroke-width="1" />
<line x1="148.90" y1="329.00" x2="155.50" y2="333.00" stroke="#e8a06a" stroke-width="2.2" stroke-linecap="round"/>
<line x1="155.50" y1="333.00" x2="161.00" y2="336.20" stroke="#8c8cf0" stroke-width="2.2" stroke-linecap="round"/>
<polygon points="160.68,335.87 169.26,333.18 179.58,339.30 181.32,348.13 172.74,350.82 162.42,344.70" fill="#86d9f0" stroke="#6c6c6c" stroke-width="3.3" stroke-linejoin="round"/>
<polygon points="160.68,335.87 169.26,333.18 179.58,339.30 181.32,348.13 172.74,350.82 162.42,344.70" fill="#86d9f0" stroke="#a9a9a9" stroke-width="2.3" stroke-linejoin="round"/>
<polygon points="160.94,336.03 169.24,333.51 179.30,339.48 181.06,347.97 172.76,350.49 162.70,344.52" fill="none" stroke="#d6d6d6" stroke-width="0.6" />
<line x1="181.00" y1="348.00" x2="195.00" y2="356.50" stroke="#777" stroke-width="2.6" stroke-linecap="round"/>
<line x1="181.00" y1="348.00" x2="195.00" y2="356.50" stroke="#b4b4b4" stroke-width="1.5" stroke-linecap="round"/>
<polygon points="194.88,356.17 203.46,353.48 213.78,359.60 215.52,368.43 206.94,371.12 196.62,365.00" fill="#84dc9c" stroke="#6c6c6c" stroke-width="3.3" stroke-linejoin="round"/>
<polygon points="194.88,356.17 203.46,353.48 213.78,359.60 215.52,368.43 206.94,371.12 196.62,365.00" fill="#84dc9c" stroke="#a9a9a9" stroke-width="2.3" stroke-linejoin="round"/>
<polygon points="195.14,356.33 203.44,353.81 213.50,359.78 215.26,368.27 206.96,370.79 196.90,364.82" fill="none" stroke="#d6d6d6" stroke-width="0.6" />
<polygon points="159.98,365.87 168.56,363.18 178.88,369.30 180.62,378.13 172.04,380.82 161.72,374.70" fill="#84dc9c" stroke="#6c6c6c" stroke-width="3.3" stroke-linejoin="round"/>
<polygon points="159.98,365.87 168.56,363.18 178.88,369.30 180.62,378.13 172.04,380.82 161.72,374.70" fill="#84dc9c" stroke="#a9a9a9" stroke-width="2.3" stroke-linejoin="round"/>
<polygon points="160.24,366.03 168.54,363.51 178.60,369.48 180.36,377.97 172.06,380.49 162.00,374.52" fill="none" stroke="#d6d6d6" stroke-width="0.6" />
<line x1="180.50" y1="378.00" x2="194.00" y2="386.50" stroke="#777" stroke-width="2.6" stroke-linecap="round"/>
<line x1="180.50" y1="378.00" x2="194.00" y2="386.50" stroke="#b4b4b4" stroke-width="1.5" stroke-linecap="round"/>
<polygon points="193.78,386.47 202.36,383.78 212.68,389.90 214.42,398.73 205.84,401.42 195.52,395.30" fill="#86d9f0" stroke="#6c6c6c" stroke-width="3.3" stroke-linejoin="round"/>
<polygon points="193.78,386.47 202.36,383.78 212.68,389.90 214.42,398.73 205.84,401.42 195.52,395.30" fill="#86d9f0" stroke="#a9a9a9" stroke-width="2.3" stroke-linejoin="round"/>
<polygon points="194.04,386.63 202.34,384.11 212.40,390.08 214.16,398.57 205.86,401.09 195.80,395.12" fill="none" stroke="#d6d6d6" stroke-width="0.6" />
<line x1="213.80" y1="398.30" x2="220.50" y2="402.00" stroke="#8c8cf0" stroke-width="2.2" stroke-linecap="round"/>
<line x1="220.50" y1="402.00" x2="226.70" y2="406.20" stroke="#e8a06a" stroke-width="2.2" stroke-linecap="round"/>
<line x1="168.50" y1="350.50" x2="168.50" y2="365.00" stroke="#1a2a5a" stroke-width="1.0" stroke-dasharray="1.2 1"/>
<line x1="202.50" y1="371.00" x2="202.50" y2="386.00" stroke="#1a2a5a" stroke-width="1.0" stroke-dasharray="1.2 1"/>
<text x="171.00" y="343.60" font-size="5.8" font-weight="bold" text-anchor="middle" fill="#000" transform="rotate(30.7 171.00 343.60)" stroke="#000" stroke-width="0.18" stroke-linejoin="round">π-hole</text>
<text x="204.10" y="394.20" font-size="5.8" font-weight="bold" text-anchor="middle" fill="#000" transform="rotate(30.7 204.10 394.20)" stroke="#000" stroke-width="0.18" stroke-linejoin="round">π-hole</text>
<text x="205.60" y="364.60" font-size="7.5" font-weight="bold" text-anchor="middle" fill="#000" transform="rotate(30.7 205.60 364.60)" stroke="#000" stroke-width="0.18" stroke-linejoin="round">π</text>
<text x="170.60" y="374.40" font-size="7.5" font-weight="bold" text-anchor="middle" fill="#000" transform="rotate(30.7 170.60 374.40)" stroke="#000" stroke-width="0.18" stroke-linejoin="round">π</text>
<line x1="170.50" y1="386.00" x2="168.20" y2="375.50" stroke="#111" stroke-width="1.0" />
<polygon points="166.40,376.60 169.60,375.80 167.60,372.60" fill="#111" stroke="none" stroke-width="1" />
<line x1="176.40" y1="389.70" x2="198.50" y2="377.80" stroke="#111" stroke-width="1.0" />
<polygon points="197.20,376.00 198.90,379.20 201.30,376.20" fill="#111" stroke="none" stroke-width="1" />
<text x="177.50" y="401.00" font-size="10.6" font-weight="bold" text-anchor="middle" fill="#1a1a1a" textLength="44" lengthAdjust="spacingAndGlyphs" transform="rotate(17 177.50 401.00)" stroke="#1a1a1a" stroke-width="0.18" stroke-linejoin="round">π-hole···π</text>
<text x="180.60" y="437.60" font-size="9.0" font-weight="bold" text-anchor="middle" fill="#1a1a1a" textLength="54.3" lengthAdjust="spacingAndGlyphs" stroke="#1a1a1a" stroke-width="0.18" stroke-linejoin="round">PPNO (Host)</text>
<path d="M229.20,332.30 C230.48,334.32 236.82,340.12 236.90,344.40 C236.98,348.68 229.77,352.77 229.70,358.00 C229.63,363.23 236.30,370.42 236.50,375.80 C236.70,381.18 230.83,385.47 230.90,390.30 C230.97,395.13 236.90,400.35 236.90,404.80 C236.90,409.25 231.22,412.55 230.90,417.00 C230.58,421.45 234.32,429.08 235.00,431.50" fill="none" stroke="#3cb83c" stroke-width="1.7" stroke-dasharray="3.6 2.2"/>
<path d="M570.90,331.00 C572.10,333.23 578.10,339.98 578.10,344.40 C578.10,348.82 570.90,352.67 570.90,357.50 C570.90,362.33 577.90,368.57 578.10,373.40 C578.30,378.23 571.97,382.07 572.10,386.50 C572.23,390.93 578.98,395.33 578.90,400.00 C578.82,404.67 571.93,409.47 571.60,414.50 C571.27,419.53 576.02,427.58 576.90,430.20" fill="none" stroke="#e8843e" stroke-width="1.7" stroke-dasharray="3.6 2.2"/>
<text x="211.80" y="323.90" font-size="10.6" font-weight="bold" text-anchor="start" fill="#2f7d1e" textLength="36.8" lengthAdjust="spacingAndGlyphs" stroke="#2f7d1e" stroke-width="0.18" stroke-linejoin="round">”Weak”</text>
<text x="552.00" y="323.90" font-size="10.6" font-weight="bold" text-anchor="start" fill="#e07a36" textLength="46.7" lengthAdjust="spacingAndGlyphs" stroke="#e07a36" stroke-width="0.18" stroke-linejoin="round">”Robust”</text>
<polygon points="229.51,300.36 231.32,302.28 253.83,312.67 265.91,319.90 278.89,325.35 300.60,337.34 303.21,337.66 304.39,335.34 302.58,333.42 280.07,323.03 267.99,315.80 255.01,310.35 233.30,298.36 230.69,298.04" fill="#9ccaf2" stroke="#3f8ade" stroke-width="2.1" stroke-linejoin="round"/>
<polygon points="229.51,300.36 231.32,302.28 253.83,312.67 265.91,319.90 278.89,325.35 300.60,337.34 303.21,337.66 304.39,335.34 302.58,333.42 280.07,323.03 267.99,315.80 255.01,310.35 233.30,298.36 230.69,298.04" fill="none" stroke="#6cb4f2" stroke-width="1.1" stroke-linejoin="round"/>
<line x1="258.11" y1="313.37" x2="275.79" y2="322.33" stroke="#c4eef2" stroke-width="1.6" />
<polygon points="244.72,334.27 246.54,336.17 269.08,346.31 281.18,353.41 294.17,358.72 315.91,370.48 318.52,370.77 319.68,368.43 317.86,366.53 295.32,356.39 283.22,349.29 270.23,343.98 248.49,332.22 245.88,331.93" fill="#9ccaf2" stroke="#3f8ade" stroke-width="2.1" stroke-linejoin="round"/>
<polygon points="244.72,334.27 246.54,336.17 269.08,346.31 281.18,353.41 294.17,358.72 315.91,370.48 318.52,370.77 319.68,368.43 317.86,366.53 295.32,356.39 283.22,349.29 270.23,343.98 248.49,332.22 245.88,331.93" fill="none" stroke="#6cb4f2" stroke-width="1.1" stroke-linejoin="round"/>
<line x1="273.34" y1="346.97" x2="291.06" y2="355.73" stroke="#c4eef2" stroke-width="1.6" />
<line x1="264.00" y1="321.30" x2="259.70" y2="338.20" stroke="#44c044" stroke-width="1.1" stroke-dasharray="1.8 1.2"/>
<text x="293.60" y="353.50" font-size="9.4" font-weight="bold" text-anchor="start" fill="#3d5a1e" stroke="#3d5a1e" stroke-width="0.18" stroke-linejoin="round">d<tspan font-size="6" dy="2">1</tspan><tspan dy="-2">= 3.88 Å</tspan></text>
<polygon points="474.33,369.54 476.87,369.15 497.47,356.63 509.87,350.86 521.30,343.34 542.77,332.39 544.43,330.44 543.17,328.16 540.63,328.55 520.03,341.07 507.63,346.84 496.20,354.36 474.73,365.31 473.07,367.26" fill="#9ccaf2" stroke="#3f8ade" stroke-width="2.1" stroke-linejoin="round"/>
<polygon points="474.33,369.54 476.87,369.15 497.47,356.63 509.87,350.86 521.30,343.34 542.77,332.39 544.43,330.44 543.17,328.16 540.63,328.55 520.03,341.07 507.63,346.84 496.20,354.36 474.73,365.31 473.07,367.26" fill="none" stroke="#6cb4f2" stroke-width="1.1" stroke-linejoin="round"/>
<line x1="500.34" y1="353.54" x2="517.16" y2="344.16" stroke="#c4eef2" stroke-width="1.6" />
<polygon points="488.32,345.25 490.90,344.88 512.01,332.51 524.69,326.83 536.42,319.38 558.39,308.60 560.12,306.65 558.88,304.35 556.30,304.72 535.19,317.09 522.51,322.77 510.78,330.22 488.81,341.00 487.08,342.95" fill="#9ccaf2" stroke="#3f8ade" stroke-width="2.1" stroke-linejoin="round"/>
<polygon points="488.32,345.25 490.90,344.88 512.01,332.51 524.69,326.83 536.42,319.38 558.39,308.60 560.12,306.65 558.88,304.35 556.30,304.72 535.19,317.09 522.51,322.77 510.78,330.22 488.81,341.00 487.08,342.95" fill="none" stroke="#6cb4f2" stroke-width="1.1" stroke-linejoin="round"/>
<line x1="514.98" y1="329.43" x2="532.22" y2="320.17" stroke="#c4eef2" stroke-width="1.6" />
<line x1="523.80" y1="327.90" x2="531.20" y2="336.70" stroke="#e03a3a" stroke-width="0.9" />
<text x="520.90" y="353.70" font-size="9.4" font-weight="bold" text-anchor="start" fill="#e07a36" stroke="#e07a36" stroke-width="0.18" stroke-linejoin="round">d<tspan font-size="6" dy="2">1</tspan><tspan dy="-2">= 3.08 Å</tspan></text>
<clipPath id="hc1"><polygon points="295.26,393.19 281.46,397.31 271.00,387.41 274.34,373.41 288.14,369.29 298.60,379.19"/></clipPath>
<polygon points="294.46,396.89 280.66,401.01 270.20,391.11 273.54,377.11 287.34,372.99 297.80,382.89" fill="#98ef98" clip-path="url(#hc1)"/>
<clipPath id="hc2"><polygon points="319.56,398.99 305.76,403.11 295.30,393.21 298.64,379.21 312.44,375.09 322.90,384.99"/></clipPath>
<polygon points="318.76,402.69 304.96,406.81 294.50,396.91 297.84,382.91 311.64,378.79 322.10,388.69" fill="#98ef98" clip-path="url(#hc2)"/>
<polygon points="294.46,396.89 280.66,401.01 270.20,391.11 273.54,377.11 287.34,372.99 297.80,382.89" fill="none" stroke="#3f8ade" stroke-width="2.8" stroke-linejoin="round"/>
<polygon points="294.46,396.89 280.66,401.01 270.20,391.11 273.54,377.11 287.34,372.99 297.80,382.89" fill="none" stroke="#62b0f2" stroke-width="1.8" stroke-linejoin="round"/>
<polygon points="294.46,396.89 280.66,401.01 270.20,391.11 273.54,377.11 287.34,372.99 297.80,382.89" fill="none" stroke="#b6e0fa" stroke-width="0.5" />
<polygon points="318.76,402.69 304.96,406.81 294.50,396.91 297.84,382.91 311.64,378.79 322.10,388.69" fill="none" stroke="#3f8ade" stroke-width="2.8" stroke-linejoin="round"/>
<polygon points="318.76,402.69 304.96,406.81 294.50,396.91 297.84,382.91 311.64,378.79 322.10,388.69" fill="none" stroke="#62b0f2" stroke-width="1.8" stroke-linejoin="round"/>
<polygon points="318.76,402.69 304.96,406.81 294.50,396.91 297.84,382.91 311.64,378.79 322.10,388.69" fill="none" stroke="#b6e0fa" stroke-width="0.5" />
<polygon points="343.06,408.49 329.26,412.61 318.80,402.71 322.14,388.71 335.94,384.59 346.40,394.49" fill="none" stroke="#3f8ade" stroke-width="2.8" stroke-linejoin="round"/>
<polygon points="343.06,408.49 329.26,412.61 318.80,402.71 322.14,388.71 335.94,384.59 346.40,394.49" fill="none" stroke="#62b0f2" stroke-width="1.8" stroke-linejoin="round"/>
<polygon points="343.06,408.49 329.26,412.61 318.80,402.71 322.14,388.71 335.94,384.59 346.40,394.49" fill="none" stroke="#b6e0fa" stroke-width="0.5" />
<polygon points="270.96,387.39 257.16,391.51 246.70,381.61 250.04,367.61 263.84,363.49 274.30,373.39" fill="none" stroke="#3f8ade" stroke-width="2.8" stroke-linejoin="round"/>
<polygon points="270.96,387.39 257.16,391.51 246.70,381.61 250.04,367.61 263.84,363.49 274.30,373.39" fill="none" stroke="#62b0f2" stroke-width="1.8" stroke-linejoin="round"/>
<polygon points="270.96,387.39 257.16,391.51 246.70,381.61 250.04,367.61 263.84,363.49 274.30,373.39" fill="none" stroke="#b6e0fa" stroke-width="0.5" />
<polygon points="295.26,393.19 281.46,397.31 271.00,387.41 274.34,373.41 288.14,369.29 298.60,379.19" fill="none" stroke="#3f8ade" stroke-width="2.8" stroke-linejoin="round"/>
<polygon points="295.26,393.19 281.46,397.31 271.00,387.41 274.34,373.41 288.14,369.29 298.60,379.19" fill="none" stroke="#62b0f2" stroke-width="1.8" stroke-linejoin="round"/>
<polygon points="295.26,393.19 281.46,397.31 271.00,387.41 274.34,373.41 288.14,369.29 298.60,379.19" fill="none" stroke="#b6e0fa" stroke-width="0.5" />
<polygon points="319.56,398.99 305.76,403.11 295.30,393.21 298.64,379.21 312.44,375.09 322.90,384.99" fill="none" stroke="#3f8ade" stroke-width="2.8" stroke-linejoin="round"/>
<polygon points="319.56,398.99 305.76,403.11 295.30,393.21 298.64,379.21 312.44,375.09 322.90,384.99" fill="none" stroke="#62b0f2" stroke-width="1.8" stroke-linejoin="round"/>
<polygon points="319.56,398.99 305.76,403.11 295.30,393.21 298.64,379.21 312.44,375.09 322.90,384.99" fill="none" stroke="#b6e0fa" stroke-width="0.5" />
<clipPath id="hc3"><polygon points="503.57,398.63 493.42,409.13 479.26,405.60 475.23,391.57 485.38,381.07 499.54,384.60"/></clipPath>
<polygon points="506.57,396.93 496.42,407.43 482.26,403.90 478.23,389.87 488.38,379.37 502.54,382.90" fill="#eed86a" clip-path="url(#hc3)"/>
<clipPath id="hc4"><polygon points="528.07,391.63 517.92,402.13 503.76,398.60 499.73,384.57 509.88,374.07 524.04,377.60"/></clipPath>
<polygon points="531.07,389.93 520.92,400.43 506.76,396.90 502.73,382.87 512.88,372.37 527.04,375.90" fill="#eed86a" clip-path="url(#hc4)"/>
<polygon points="506.57,396.93 496.42,407.43 482.26,403.90 478.23,389.87 488.38,379.37 502.54,382.90" fill="none" stroke="#3f8ade" stroke-width="2.8" stroke-linejoin="round"/>
<polygon points="506.57,396.93 496.42,407.43 482.26,403.90 478.23,389.87 488.38,379.37 502.54,382.90" fill="none" stroke="#62b0f2" stroke-width="1.8" stroke-linejoin="round"/>
<polygon points="506.57,396.93 496.42,407.43 482.26,403.90 478.23,389.87 488.38,379.37 502.54,382.90" fill="none" stroke="#b6e0fa" stroke-width="0.5" />
<polygon points="531.07,389.93 520.92,400.43 506.76,396.90 502.73,382.87 512.88,372.37 527.04,375.90" fill="none" stroke="#3f8ade" stroke-width="2.8" stroke-linejoin="round"/>
<polygon points="531.07,389.93 520.92,400.43 506.76,396.90 502.73,382.87 512.88,372.37 527.04,375.90" fill="none" stroke="#62b0f2" stroke-width="1.8" stroke-linejoin="round"/>
<polygon points="531.07,389.93 520.92,400.43 506.76,396.90 502.73,382.87 512.88,372.37 527.04,375.90" fill="none" stroke="#b6e0fa" stroke-width="0.5" />
<polygon points="555.57,382.93 545.42,393.43 531.26,389.90 527.23,375.87 537.38,365.37 551.54,368.90" fill="none" stroke="#3f8ade" stroke-width="2.8" stroke-linejoin="round"/>
<polygon points="555.57,382.93 545.42,393.43 531.26,389.90 527.23,375.87 537.38,365.37 551.54,368.90" fill="none" stroke="#62b0f2" stroke-width="1.8" stroke-linejoin="round"/>
<polygon points="555.57,382.93 545.42,393.43 531.26,389.90 527.23,375.87 537.38,365.37 551.54,368.90" fill="none" stroke="#b6e0fa" stroke-width="0.5" />
<polygon points="479.07,405.63 468.92,416.13 454.76,412.60 450.73,398.57 460.88,388.07 475.04,391.60" fill="none" stroke="#3f8ade" stroke-width="2.8" stroke-linejoin="round"/>
<polygon points="479.07,405.63 468.92,416.13 454.76,412.60 450.73,398.57 460.88,388.07 475.04,391.60" fill="none" stroke="#62b0f2" stroke-width="1.8" stroke-linejoin="round"/>
<polygon points="479.07,405.63 468.92,416.13 454.76,412.60 450.73,398.57 460.88,388.07 475.04,391.60" fill="none" stroke="#b6e0fa" stroke-width="0.5" />
<polygon points="503.57,398.63 493.42,409.13 479.26,405.60 475.23,391.57 485.38,381.07 499.54,384.60" fill="none" stroke="#3f8ade" stroke-width="2.8" stroke-linejoin="round"/>
<polygon points="503.57,398.63 493.42,409.13 479.26,405.60 475.23,391.57 485.38,381.07 499.54,384.60" fill="none" stroke="#62b0f2" stroke-width="1.8" stroke-linejoin="round"/>
<polygon points="503.57,398.63 493.42,409.13 479.26,405.60 475.23,391.57 485.38,381.07 499.54,384.60" fill="none" stroke="#b6e0fa" stroke-width="0.5" />
<polygon points="528.07,391.63 517.92,402.13 503.76,398.60 499.73,384.57 509.88,374.07 524.04,377.60" fill="none" stroke="#3f8ade" stroke-width="2.8" stroke-linejoin="round"/>
<polygon points="528.07,391.63 517.92,402.13 503.76,398.60 499.73,384.57 509.88,374.07 524.04,377.60" fill="none" stroke="#62b0f2" stroke-width="1.8" stroke-linejoin="round"/>
<polygon points="528.07,391.63 517.92,402.13 503.76,398.60 499.73,384.57 509.88,374.07 524.04,377.60" fill="none" stroke="#b6e0fa" stroke-width="0.5" />
<text x="252.80" y="423.60" font-size="9.6" font-weight="bold" text-anchor="start" fill="#3a6f1f" textLength="67.6" lengthAdjust="spacingAndGlyphs" stroke="#3a6f1f" stroke-width="0.18" stroke-linejoin="round">Overlap: 64.2 %</text>
<text x="259.00" y="438.00" font-size="9.2" font-weight="bold" text-anchor="start" fill="#1a1a1a" textLength="47.4" lengthAdjust="spacingAndGlyphs" stroke="#1a1a1a" stroke-width="0.18" stroke-linejoin="round">AD (Guest)</text>
<text x="219.00" y="447.00" font-size="11.0" font-weight="bold" text-anchor="start" fill="#2f7d26" textLength="27.0" lengthAdjust="spacingAndGlyphs" stroke="#2f7d26" stroke-width="0.18" stroke-linejoin="round">1 atm</text>
<text x="482.80" y="423.60" font-size="9.6" font-weight="bold" text-anchor="start" fill="#e07a36" textLength="66.6" lengthAdjust="spacingAndGlyphs" stroke="#e07a36" stroke-width="0.18" stroke-linejoin="round">Overlap: 68.6 %</text>
<text x="493.30" y="438.00" font-size="9.2" font-weight="bold" text-anchor="start" fill="#1a1a1a" textLength="47.3" lengthAdjust="spacingAndGlyphs" stroke="#1a1a1a" stroke-width="0.18" stroke-linejoin="round">AD (Guest)</text>
<text x="552.90" y="447.20" font-size="11.0" font-weight="bold" text-anchor="start" fill="#e07a36" textLength="43.8" lengthAdjust="spacingAndGlyphs" stroke="#e07a36" stroke-width="0.18" stroke-linejoin="round">22.8 GPa</text>
<rect x="390.70" y="302.6" width="2.0" height="15.5" fill="url(#arr)"/>
<polygon points="389.30,317.60 394.10,317.60 391.70,321.40" fill="#6f8fdc" stroke="none" stroke-width="1" />
<rect x="399.30" y="302.6" width="2.0" height="15.5" fill="url(#arr)"/>
<polygon points="397.90,317.60 402.70,317.60 400.30,321.40" fill="#6f8fdc" stroke="none" stroke-width="1" />
<rect x="407.90" y="302.6" width="2.0" height="15.5" fill="url(#arr)"/>
<polygon points="406.50,317.60 411.30,317.60 408.90,321.40" fill="#6f8fdc" stroke="none" stroke-width="1" />
<rect x="392.20" y="400.8" width="2.0" height="15.5" fill="url(#arr2)"/>
<polygon points="390.80,401.40 395.60,401.40 393.20,397.60" fill="#6f8fdc" stroke="none" stroke-width="1" />
<rect x="400.50" y="400.8" width="2.0" height="15.5" fill="url(#arr2)"/>
<polygon points="399.10,401.40 403.90,401.40 401.50,397.60" fill="#6f8fdc" stroke="none" stroke-width="1" />
<rect x="408.80" y="400.8" width="2.0" height="15.5" fill="url(#arr2)"/>
<polygon points="407.40,401.40 412.20,401.40 409.80,397.60" fill="#6f8fdc" stroke="none" stroke-width="1" />
<polygon points="370.60,335.00 379.50,326.80 388.00,323.30 417.00,323.30 421.50,326.20 431.40,334.60" fill="#eef1fc" stroke="#aab2e6" stroke-width="0.5" />
<polygon points="370.60,335.00 431.40,334.60 401.00,355.00" fill="#e2e6f9" stroke="#aab2e6" stroke-width="0.5" />
<polygon points="370.60,335.00 379.50,326.80 385.00,335.00" fill="#9098dc" stroke="none" stroke-width="1" />
<polygon points="379.50,326.80 388.00,323.30 392.00,329.50" fill="#d2d8f5" stroke="none" stroke-width="1" />
<polygon points="417.00,323.30 421.50,326.20 410.00,329.50" fill="#c4cbf1" stroke="none" stroke-width="1" />
<polygon points="421.50,326.20 431.40,334.60 418.00,334.80" fill="#7880d4" stroke="none" stroke-width="1" />
<polygon points="395.00,329.50 401.00,324.50 407.00,329.50 401.00,334.80" fill="#b4bced" stroke="none" stroke-width="1" />
<polygon points="378.00,335.00 386.00,335.00 401.00,355.00" fill="#a8b0e8" stroke="none" stroke-width="1" />
<polygon points="387.00,335.00 395.00,335.00 401.00,355.00" fill="#78b2ee" stroke="none" stroke-width="1" />
<polygon points="401.00,335.00 411.00,334.90 401.00,355.00" fill="#4e56be" stroke="none" stroke-width="1" />
<polygon points="411.00,334.90 420.00,334.80 401.00,355.00" fill="#7c84d6" stroke="none" stroke-width="1" />
<polygon points="396.00,335.00 401.00,335.00 401.00,355.00" fill="#c9d0f3" stroke="none" stroke-width="1" />
<polygon points="379.30,385.80 423.70,385.80 418.00,392.40 385.00,392.40" fill="#eef1fc" stroke="#b4bcea" stroke-width="0.5" />
<polygon points="379.30,385.80 402.20,371.50 423.70,385.80" fill="#dfe4f8" stroke="#aab2e6" stroke-width="0.5" />
<polygon points="384.00,385.80 402.20,371.50 392.00,385.80" fill="#86b6f0" stroke="none" stroke-width="1" />
<polygon points="404.00,385.80 402.20,371.50 412.00,385.80" fill="#4a52ba" stroke="none" stroke-width="1" />
<polygon points="412.00,385.80 402.20,371.50 419.00,385.80" fill="#7078d0" stroke="none" stroke-width="1" />
<polygon points="392.00,385.80 402.20,371.50 398.00,385.80" fill="#c4cdf3" stroke="none" stroke-width="1" />
<polygon points="387.00,385.80 393.00,389.50 399.00,385.80" fill="#d0d6f5" stroke="none" stroke-width="1" />
<polygon points="405.00,385.80 411.00,389.50 417.00,385.80" fill="#c0c8f0" stroke="none" stroke-width="1" />
<polygon points="341.70,355.80 457.00,355.80 466.70,362.10 457.00,368.40 341.70,368.40 347.00,362.10" fill="url(#ribbon)" stroke="none" stroke-width="1" />
<rect x="403" y="368.4" width="10.5" height="4.4" fill="#f6f0c8"/>
<polygon points="355.40,359.60 384.00,356.40 386.20,376.00 357.60,379.20" fill="#84de9e" stroke="none" stroke-width="1" />
<polygon points="384.00,356.40 390.80,360.80 391.20,378.60 386.20,376.00" fill="#62c47e" stroke="none" stroke-width="1" />
<polygon points="357.60,379.20 386.20,376.00 391.20,378.60 362.00,382.00" fill="#56b672" stroke="none" stroke-width="1" />
<text x="369.50" y="369.60" font-size="10" font-weight="bold" text-anchor="middle" fill="#1a1a1a" transform="rotate(-5 369.50 369.60)" stroke="#1a1a1a" stroke-width="0.18" stroke-linejoin="round">π</text>
<path d="M387.40,366.93 L387.70,367.22 L388.00,367.36 L388.30,367.35 L388.60,367.16 L388.90,366.81 L389.20,366.33 L389.50,365.79 L389.80,365.23 L390.10,364.73 L390.40,364.35 L390.70,364.12 L391.00,364.08 L391.30,364.22 L391.60,364.52 L391.90,364.94 L392.20,365.41 L392.50,365.87 L392.80,366.25 L393.10,366.49 L393.40,366.54 L393.70,366.39 L394.00,366.05 L394.30,365.56 L394.60,364.96 L394.90,364.32 L395.20,363.73 L395.50,363.25 L395.80,362.93 L396.10,362.82 L396.40,362.93 L396.70,363.23 L397.00,363.68 L397.30,364.21 L397.60,364.76 L397.90,365.24 L398.20,365.57 L398.50,365.71 L398.80,365.63 L399.10,365.32 L399.40,364.82 L399.70,364.18 L400.00,363.47 L400.30,362.78 L400.60,362.20 L400.90,361.78 L401.20,361.59 L401.50,361.63 L401.80,361.91 L402.10,362.38 L402.40,362.96 L402.70,363.59 L403.00,364.17 L403.30,364.61 L403.60,364.85 L403.90,364.85 L404.20,364.59 L404.50,364.10 L404.80,363.44 L405.10,362.67 L405.40,361.89 L405.70,361.20 L406.00,360.67 L406.30,360.38 L406.60,360.35 L406.90,360.58 L407.20,361.04 L407.50,361.67 L407.80,362.37 L408.10,363.04 L408.40,363.60 L408.70,363.95 L409.00,364.04 L409.30,363.86 L409.60,363.40 L409.90,362.73 L410.20,361.92 L410.50,361.06 L410.80,360.26 L411.10,359.62 L411.40,359.21" fill="none" stroke="#fbe0e4" stroke-width="2.6" stroke-linejoin="round"/>
<path d="M387.40,366.93 L387.70,367.22 L388.00,367.36 L388.30,367.35 L388.60,367.16 L388.90,366.81 L389.20,366.33 L389.50,365.79 L389.80,365.23 L390.10,364.73 L390.40,364.35 L390.70,364.12 L391.00,364.08 L391.30,364.22 L391.60,364.52 L391.90,364.94 L392.20,365.41 L392.50,365.87 L392.80,366.25 L393.10,366.49 L393.40,366.54 L393.70,366.39 L394.00,366.05 L394.30,365.56 L394.60,364.96 L394.90,364.32 L395.20,363.73 L395.50,363.25 L395.80,362.93 L396.10,362.82 L396.40,362.93 L396.70,363.23 L397.00,363.68 L397.30,364.21 L397.60,364.76 L397.90,365.24 L398.20,365.57 L398.50,365.71 L398.80,365.63 L399.10,365.32 L399.40,364.82 L399.70,364.18 L400.00,363.47 L400.30,362.78 L400.60,362.20 L400.90,361.78 L401.20,361.59 L401.50,361.63 L401.80,361.91 L402.10,362.38 L402.40,362.96 L402.70,363.59 L403.00,364.17 L403.30,364.61 L403.60,364.85 L403.90,364.85 L404.20,364.59 L404.50,364.10 L404.80,363.44 L405.10,362.67 L405.40,361.89 L405.70,361.20 L406.00,360.67 L406.30,360.38 L406.60,360.35 L406.90,360.58 L407.20,361.04 L407.50,361.67 L407.80,362.37 L408.10,363.04 L408.40,363.60 L408.70,363.95 L409.00,364.04 L409.30,363.86 L409.60,363.40 L409.90,362.73 L410.20,361.92 L410.50,361.06 L410.80,360.26 L411.10,359.62 L411.40,359.21" fill="none" stroke="#de2a3a" stroke-width="1.2" stroke-linejoin="round"/>
<polygon points="411.60,350.50 438.00,346.40 446.50,351.50 446.50,366.50 420.00,370.50 411.60,366.00" fill="#86daf2" stroke="none" stroke-width="1" />
<polygon points="438.00,346.40 446.50,351.50 446.50,366.50 438.00,362.50" fill="#5ec0e0" stroke="none" stroke-width="1" />
<polygon points="411.60,366.00 438.00,362.50 446.50,366.50 420.00,370.50" fill="#62c2e2" stroke="none" stroke-width="1" />
<text x="425.50" y="364.00" font-size="8.6" font-weight="bold" text-anchor="middle" fill="#1a1a1a" transform="rotate(-6 425.50 364.00)" stroke="#1a1a1a" stroke-width="0.18" stroke-linejoin="round">π-hole</text>
<text x="400.80" y="436.50" font-size="12.0" font-weight="bold" text-anchor="middle" fill="#2f4fae" textLength="81.4" lengthAdjust="spacingAndGlyphs" stroke="#2f4fae" stroke-width="0.18" stroke-linejoin="round">π-interactions</text>
<line x1="654.20" y1="322.90" x2="648.60" y2="328.10" stroke="#e8a06a" stroke-width="2.2" stroke-linecap="round"/>
<line x1="648.60" y1="328.10" x2="643.50" y2="333.00" stroke="#8c8cf0" stroke-width="2.2" stroke-linecap="round"/>
<polygon points="641.79,332.92 642.85,343.01 633.86,351.70 623.81,350.28 622.75,340.19 631.74,331.50" fill="#86d9f0" stroke="#6c6c6c" stroke-width="3.3" stroke-linejoin="round"/>
<polygon points="641.79,332.92 642.85,343.01 633.86,351.70 623.81,350.28 622.75,340.19 631.74,331.50" fill="#86d9f0" stroke="#a9a9a9" stroke-width="2.3" stroke-linejoin="round"/>
<polygon points="641.58,333.13 642.54,342.90 633.76,351.38 624.02,350.07 623.06,340.30 631.84,331.82" fill="none" stroke="#d6d6d6" stroke-width="0.6" />
<line x1="623.00" y1="351.00" x2="611.00" y2="362.50" stroke="#777" stroke-width="2.6" stroke-linecap="round"/>
<line x1="623.00" y1="351.00" x2="611.00" y2="362.50" stroke="#b4b4b4" stroke-width="1.5" stroke-linecap="round"/>
<polygon points="609.19,364.42 610.25,374.51 601.26,383.20 591.21,381.78 590.15,371.69 599.14,363.00" fill="#84dc9c" stroke="#6c6c6c" stroke-width="3.3" stroke-linejoin="round"/>
<polygon points="609.19,364.42 610.25,374.51 601.26,383.20 591.21,381.78 590.15,371.69 599.14,363.00" fill="#84dc9c" stroke="#a9a9a9" stroke-width="2.3" stroke-linejoin="round"/>
<polygon points="608.98,364.63 609.94,374.40 601.16,382.88 591.42,381.57 590.46,371.80 599.24,363.32" fill="none" stroke="#d6d6d6" stroke-width="0.6" />
<polygon points="651.99,350.92 653.05,361.01 644.06,369.70 634.01,368.28 632.95,358.19 641.94,349.50" fill="#84dc9c" stroke="#6c6c6c" stroke-width="3.3" stroke-linejoin="round"/>
<polygon points="651.99,350.92 653.05,361.01 644.06,369.70 634.01,368.28 632.95,358.19 641.94,349.50" fill="#84dc9c" stroke="#a9a9a9" stroke-width="2.3" stroke-linejoin="round"/>
<polygon points="651.78,351.13 652.74,360.90 643.96,369.38 634.22,368.07 633.26,358.30 642.04,349.82" fill="none" stroke="#d6d6d6" stroke-width="0.6" />
<line x1="633.00" y1="369.00" x2="621.00" y2="380.00" stroke="#777" stroke-width="2.6" stroke-linecap="round"/>
<line x1="633.00" y1="369.00" x2="621.00" y2="380.00" stroke="#b4b4b4" stroke-width="1.5" stroke-linecap="round"/>
<polygon points="618.19,382.42 619.25,392.51 610.26,401.20 600.21,399.78 599.15,389.69 608.14,381.00" fill="#86d9f0" stroke="#6c6c6c" stroke-width="3.3" stroke-linejoin="round"/>
<polygon points="618.19,382.42 619.25,392.51 610.26,401.20 600.21,399.78 599.15,389.69 608.14,381.00" fill="#86d9f0" stroke="#a9a9a9" stroke-width="2.3" stroke-linejoin="round"/>
<polygon points="617.98,382.63 618.94,392.40 610.16,400.88 600.42,399.57 599.46,389.80 608.24,381.32" fill="none" stroke="#d6d6d6" stroke-width="0.6" />
<line x1="600.50" y1="399.50" x2="595.70" y2="404.60" stroke="#8c8cf0" stroke-width="2.2" stroke-linecap="round"/>
<line x1="595.70" y1="404.60" x2="589.00" y2="410.20" stroke="#e8a06a" stroke-width="2.2" stroke-linecap="round"/>
<text x="632.80" y="343.50" font-size="6.2" font-weight="bold" text-anchor="middle" fill="#000" transform="rotate(-44.0 632.80 343.50)" stroke="#000" stroke-width="0.18" stroke-linejoin="round">π-hole</text>
<text x="609.20" y="393.00" font-size="6.2" font-weight="bold" text-anchor="middle" fill="#000" transform="rotate(-44.0 609.20 393.00)" stroke="#000" stroke-width="0.18" stroke-linejoin="round">π-hole</text>
<text x="600.40" y="375.60" font-size="7.5" font-weight="bold" text-anchor="middle" fill="#000" transform="rotate(-44.0 600.40 375.60)" stroke="#000" stroke-width="0.18" stroke-linejoin="round">π</text>
<text x="643.20" y="362.10" font-size="7.5" font-weight="bold" text-anchor="middle" fill="#000" transform="rotate(-44.0 643.20 362.10)" stroke="#000" stroke-width="0.18" stroke-linejoin="round">π</text>
<line x1="637.40" y1="349.50" x2="642.40" y2="357.50" stroke="#e8a040" stroke-width="0.8" stroke-dasharray="1.2 1"/>
<line x1="601.50" y1="380.50" x2="606.50" y2="388.00" stroke="#e8a040" stroke-width="0.8" stroke-dasharray="1.2 1"/>
<line x1="617.10" y1="410.20" x2="613.70" y2="392.20" stroke="#e8a040" stroke-width="0.9" />
<line x1="628.30" y1="410.20" x2="639.60" y2="366.30" stroke="#e8a040" stroke-width="0.9" />
<text x="596.50" y="421.40" font-size="9.2" font-weight="bold" text-anchor="start" fill="#e07a36" textLength="61.2" lengthAdjust="spacingAndGlyphs" stroke="#e07a36" stroke-width="0.18" stroke-linejoin="round">Strengthening</text>
<text x="598.20" y="437.70" font-size="9.0" font-weight="bold" text-anchor="start" fill="#1a1a1a" textLength="54.3" lengthAdjust="spacingAndGlyphs" stroke="#1a1a1a" stroke-width="0.18" stroke-linejoin="round">PPNO (Host)</text></svg>
</body></html>
